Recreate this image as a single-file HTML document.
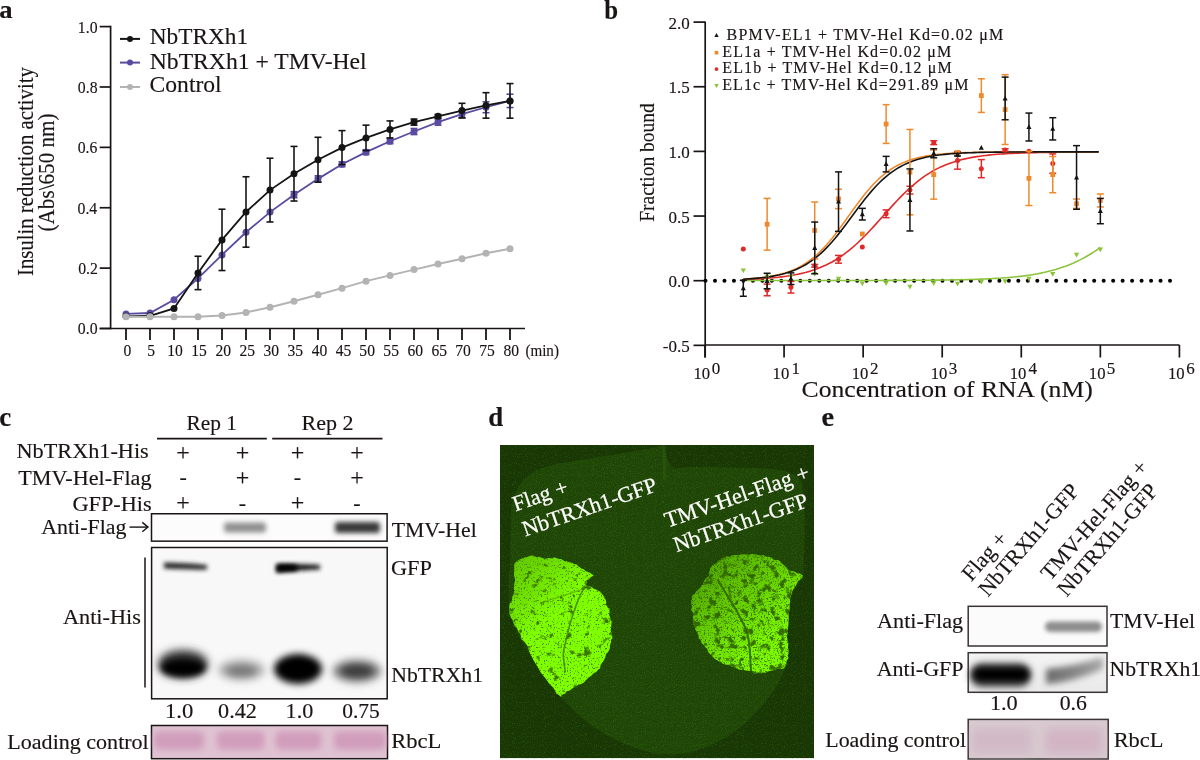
<!DOCTYPE html>
<html><head><meta charset="utf-8"><style>
html,body{margin:0;padding:0;background:#fff;width:1200px;height:760px;overflow:hidden}
svg{display:block;font-family:"Liberation Serif", serif;will-change:transform}
</style></head><body>
<svg width="1200" height="760" viewBox="0 0 1200 760">
<defs><filter id="b1" filterUnits="userSpaceOnUse" x="0" y="0" width="1200" height="760"><feGaussianBlur stdDeviation="1"/></filter><filter id="b1_5" filterUnits="userSpaceOnUse" x="0" y="0" width="1200" height="760"><feGaussianBlur stdDeviation="1.5"/></filter><filter id="b2" filterUnits="userSpaceOnUse" x="0" y="0" width="1200" height="760"><feGaussianBlur stdDeviation="2"/></filter><filter id="b2_2" filterUnits="userSpaceOnUse" x="0" y="0" width="1200" height="760"><feGaussianBlur stdDeviation="2.2"/></filter><filter id="b2_5" filterUnits="userSpaceOnUse" x="0" y="0" width="1200" height="760"><feGaussianBlur stdDeviation="2.5"/></filter><filter id="b3" filterUnits="userSpaceOnUse" x="0" y="0" width="1200" height="760"><feGaussianBlur stdDeviation="3"/></filter><filter id="b3_5" filterUnits="userSpaceOnUse" x="0" y="0" width="1200" height="760"><feGaussianBlur stdDeviation="3.5"/></filter><filter id="b4" filterUnits="userSpaceOnUse" x="0" y="0" width="1200" height="760"><feGaussianBlur stdDeviation="4"/></filter><filter id="b5" filterUnits="userSpaceOnUse" x="0" y="0" width="1200" height="760"><feGaussianBlur stdDeviation="5"/></filter><filter id="b6" filterUnits="userSpaceOnUse" x="0" y="0" width="1200" height="760"><feGaussianBlur stdDeviation="6"/></filter><filter id="speck" x="500" y="445" width="314" height="314" filterUnits="userSpaceOnUse" color-interpolation-filters="sRGB"><feTurbulence type="fractalNoise" baseFrequency="0.9" numOctaves="2" seed="11" result="t"/><feColorMatrix in="t" type="matrix" values="0 0 0 0 0.17  0 0 0 0 0.36  0 0 0 0 0.04  0 3.2 0 0 -1.55"/></filter><filter id="speck2" x="500" y="445" width="314" height="314" filterUnits="userSpaceOnUse" color-interpolation-filters="sRGB"><feTurbulence type="fractalNoise" baseFrequency="0.9" numOctaves="2" seed="5" result="t"/><feColorMatrix in="t" type="matrix" values="0 0 0 0 0.16  0 0 0 0 0.34  0 0 0 0 0.04  0 3.2 0 0 -1.75"/></filter><filter id="mottleL" x="500" y="540" width="130" height="170" filterUnits="userSpaceOnUse" color-interpolation-filters="sRGB"><feTurbulence type="fractalNoise" baseFrequency="0.12" numOctaves="5" seed="4" result="t"/><feColorMatrix in="t" type="matrix" values="0 0 0 0 0.22  0 0 0 0 0.45  0 0 0 0 0  0 7 0 0 -4.35" result="c"/><feComposite in="c" in2="SourceAlpha" operator="in"/></filter><filter id="mottleR" x="680" y="540" width="140" height="150" filterUnits="userSpaceOnUse" color-interpolation-filters="sRGB"><feTurbulence type="fractalNoise" baseFrequency="0.14" numOctaves="5" seed="9" result="t"/><feColorMatrix in="t" type="matrix" values="0 0 0 0 0.2  0 0 0 0 0.42  0 0 0 0 0  0 6 0 0 -3.2" result="c"/><feComposite in="c" in2="SourceAlpha" operator="in"/></filter><filter id="fineL" x="500" y="540" width="130" height="170" filterUnits="userSpaceOnUse" color-interpolation-filters="sRGB"><feTurbulence type="fractalNoise" baseFrequency="0.7" numOctaves="2" seed="21" result="t"/><feColorMatrix in="t" type="matrix" values="0 0 0 0 0.25  0 0 0 0 0.5  0 0 0 0 0  0 6 0 0 -3.55" result="c"/><feComposite in="c" in2="SourceAlpha" operator="in"/></filter><filter id="fineR" x="680" y="540" width="140" height="150" filterUnits="userSpaceOnUse" color-interpolation-filters="sRGB"><feTurbulence type="fractalNoise" baseFrequency="0.7" numOctaves="2" seed="23" result="t"/><feColorMatrix in="t" type="matrix" values="0 0 0 0 0.25  0 0 0 0 0.5  0 0 0 0 0  0 6 0 0 -3.3" result="c"/><feComposite in="c" in2="SourceAlpha" operator="in"/></filter></defs>
<text stroke="#1a1414" stroke-width="0.15" transform="translate(-0.80,18) scale(1.0667,1)" font-size="25" font-weight="bold" fill="#1a1414" >a</text>
<line x1="110.60" y1="25.75" x2="110.60" y2="329.20" stroke="#1a1414" stroke-width="1.7" />
<line x1="99.70" y1="328.50" x2="525.00" y2="328.50" stroke="#1a1414" stroke-width="1.7" />
<line x1="99.70" y1="328.50" x2="110.60" y2="328.50" stroke="#1a1414" stroke-width="1.7" />
<text stroke="#1a1414" stroke-width="0.15" transform="translate(77.84,334.4) scale(0.9000,1)" font-size="17.5" fill="#1a1414" >0.0</text>
<line x1="99.70" y1="268.12" x2="110.60" y2="268.12" stroke="#1a1414" stroke-width="1.7" />
<text stroke="#1a1414" stroke-width="0.15" transform="translate(78.16,274.02) scale(0.9000,1)" font-size="17.5" fill="#1a1414" >0.2</text>
<line x1="99.70" y1="207.74" x2="110.60" y2="207.74" stroke="#1a1414" stroke-width="1.7" />
<text stroke="#1a1414" stroke-width="0.15" transform="translate(77.53,213.64) scale(0.9000,1)" font-size="17.5" fill="#1a1414" >0.4</text>
<line x1="99.70" y1="147.36" x2="110.60" y2="147.36" stroke="#1a1414" stroke-width="1.7" />
<text stroke="#1a1414" stroke-width="0.15" transform="translate(77.69,153.26) scale(0.9000,1)" font-size="17.5" fill="#1a1414" >0.6</text>
<line x1="99.70" y1="86.98" x2="110.60" y2="86.98" stroke="#1a1414" stroke-width="1.7" />
<text stroke="#1a1414" stroke-width="0.15" transform="translate(77.84,92.88) scale(0.9000,1)" font-size="17.5" fill="#1a1414" >0.8</text>
<line x1="99.70" y1="26.60" x2="110.60" y2="26.60" stroke="#1a1414" stroke-width="1.7" />
<text stroke="#1a1414" stroke-width="0.15" transform="translate(77.84,32.5) scale(0.9000,1)" font-size="17.5" fill="#1a1414" >1.0</text>
<line x1="126.00" y1="328.50" x2="126.00" y2="340.00" stroke="#1a1414" stroke-width="1.8" />
<text stroke="#1a1414" stroke-width="0.15" transform="translate(123.41,356) scale(0.9000,1)" font-size="17.3" fill="#1a1414">0</text>
<line x1="150.00" y1="328.50" x2="150.00" y2="340.00" stroke="#1a1414" stroke-width="1.8" />
<text stroke="#1a1414" stroke-width="0.15" transform="translate(147.25,356) scale(0.9000,1)" font-size="17.3" fill="#1a1414">5</text>
<line x1="174.00" y1="328.50" x2="174.00" y2="340.00" stroke="#1a1414" stroke-width="1.8" />
<text stroke="#1a1414" stroke-width="0.15" transform="translate(167.13,356) scale(0.9000,1)" font-size="17.3" fill="#1a1414">10</text>
<line x1="198.00" y1="328.50" x2="198.00" y2="340.00" stroke="#1a1414" stroke-width="1.8" />
<text stroke="#1a1414" stroke-width="0.15" transform="translate(191.13,356) scale(0.9000,1)" font-size="17.3" fill="#1a1414">15</text>
<line x1="222.00" y1="328.50" x2="222.00" y2="340.00" stroke="#1a1414" stroke-width="1.8" />
<text stroke="#1a1414" stroke-width="0.15" transform="translate(215.52,356) scale(0.9000,1)" font-size="17.3" fill="#1a1414">20</text>
<line x1="246.00" y1="328.50" x2="246.00" y2="340.00" stroke="#1a1414" stroke-width="1.8" />
<text stroke="#1a1414" stroke-width="0.15" transform="translate(239.52,356) scale(0.9000,1)" font-size="17.3" fill="#1a1414">25</text>
<line x1="270.00" y1="328.50" x2="270.00" y2="340.00" stroke="#1a1414" stroke-width="1.8" />
<text stroke="#1a1414" stroke-width="0.15" transform="translate(263.44,356) scale(0.9000,1)" font-size="17.3" fill="#1a1414">30</text>
<line x1="294.00" y1="328.50" x2="294.00" y2="340.00" stroke="#1a1414" stroke-width="1.8" />
<text stroke="#1a1414" stroke-width="0.15" transform="translate(287.44,356) scale(0.9000,1)" font-size="17.3" fill="#1a1414">35</text>
<line x1="318.00" y1="328.50" x2="318.00" y2="340.00" stroke="#1a1414" stroke-width="1.8" />
<text stroke="#1a1414" stroke-width="0.15" transform="translate(311.67,356) scale(0.9000,1)" font-size="17.3" fill="#1a1414">40</text>
<line x1="342.00" y1="328.50" x2="342.00" y2="340.00" stroke="#1a1414" stroke-width="1.8" />
<text stroke="#1a1414" stroke-width="0.15" transform="translate(335.67,356) scale(0.9000,1)" font-size="17.3" fill="#1a1414">45</text>
<line x1="366.00" y1="328.50" x2="366.00" y2="340.00" stroke="#1a1414" stroke-width="1.8" />
<text stroke="#1a1414" stroke-width="0.15" transform="translate(359.36,356) scale(0.9000,1)" font-size="17.3" fill="#1a1414">50</text>
<line x1="390.00" y1="328.50" x2="390.00" y2="340.00" stroke="#1a1414" stroke-width="1.8" />
<text stroke="#1a1414" stroke-width="0.15" transform="translate(383.36,356) scale(0.9000,1)" font-size="17.3" fill="#1a1414">55</text>
<line x1="414.00" y1="328.50" x2="414.00" y2="340.00" stroke="#1a1414" stroke-width="1.8" />
<text stroke="#1a1414" stroke-width="0.15" transform="translate(407.51,356) scale(0.9000,1)" font-size="17.3" fill="#1a1414">60</text>
<line x1="438.00" y1="328.50" x2="438.00" y2="340.00" stroke="#1a1414" stroke-width="1.8" />
<text stroke="#1a1414" stroke-width="0.15" transform="translate(431.51,356) scale(0.9000,1)" font-size="17.3" fill="#1a1414">65</text>
<line x1="462.00" y1="328.50" x2="462.00" y2="340.00" stroke="#1a1414" stroke-width="1.8" />
<text stroke="#1a1414" stroke-width="0.15" transform="translate(455.28,356) scale(0.9000,1)" font-size="17.3" fill="#1a1414">70</text>
<line x1="486.00" y1="328.50" x2="486.00" y2="340.00" stroke="#1a1414" stroke-width="1.8" />
<text stroke="#1a1414" stroke-width="0.15" transform="translate(479.28,356) scale(0.9000,1)" font-size="17.3" fill="#1a1414">75</text>
<line x1="510.00" y1="328.50" x2="510.00" y2="340.00" stroke="#1a1414" stroke-width="1.8" />
<text stroke="#1a1414" stroke-width="0.15" transform="translate(503.51,356) scale(0.9000,1)" font-size="17.3" fill="#1a1414">80</text>
<text stroke="#1a1414" stroke-width="0.15" transform="translate(525.40,356) scale(0.8725,1)" font-size="17.3" fill="#1a1414" >(min)</text>
<text stroke="#1a1414" stroke-width="0.15" transform="translate(32.6,276.03) rotate(-90) scale(0.9043,1)" font-size="23" fill="#1a1414">Insulin reduction activity</text>
<text stroke="#1a1414" stroke-width="0.15" transform="translate(54.4,231.45) rotate(-90) scale(0.9194,1)" font-size="23" fill="#1a1414">(Abs\650 nm)</text>
<path d="M126.00,313.93 L150.00,313.02 L174.00,299.67 L198.00,278.42 L222.00,254.90 L246.00,232.29 L270.00,212.11 L294.00,194.72 L318.00,178.87 L342.00,164.31 L366.00,152.17 L390.00,141.24 L414.00,131.53 L438.00,122.12 L462.00,114.23 L486.00,107.25 L510.00,100.88" stroke="#5a4aa0" stroke-width="1.8" fill="none" />
<line x1="294.00" y1="191.68" x2="294.00" y2="197.75" stroke="#5a4aa0" stroke-width="1.6" />
<line x1="290.50" y1="191.68" x2="297.50" y2="191.68" stroke="#5a4aa0" stroke-width="1.6" />
<line x1="290.50" y1="197.75" x2="297.50" y2="197.75" stroke="#5a4aa0" stroke-width="1.6" />
<line x1="318.00" y1="175.84" x2="318.00" y2="181.91" stroke="#5a4aa0" stroke-width="1.6" />
<line x1="314.50" y1="175.84" x2="321.50" y2="175.84" stroke="#5a4aa0" stroke-width="1.6" />
<line x1="314.50" y1="181.91" x2="321.50" y2="181.91" stroke="#5a4aa0" stroke-width="1.6" />
<line x1="342.00" y1="161.88" x2="342.00" y2="166.73" stroke="#5a4aa0" stroke-width="1.6" />
<line x1="338.50" y1="161.88" x2="345.50" y2="161.88" stroke="#5a4aa0" stroke-width="1.6" />
<line x1="338.50" y1="166.73" x2="345.50" y2="166.73" stroke="#5a4aa0" stroke-width="1.6" />
<line x1="366.00" y1="149.74" x2="366.00" y2="154.59" stroke="#5a4aa0" stroke-width="1.6" />
<line x1="362.50" y1="149.74" x2="369.50" y2="149.74" stroke="#5a4aa0" stroke-width="1.6" />
<line x1="362.50" y1="154.59" x2="369.50" y2="154.59" stroke="#5a4aa0" stroke-width="1.6" />
<line x1="390.00" y1="138.81" x2="390.00" y2="143.67" stroke="#5a4aa0" stroke-width="1.6" />
<line x1="386.50" y1="138.81" x2="393.50" y2="138.81" stroke="#5a4aa0" stroke-width="1.6" />
<line x1="386.50" y1="143.67" x2="393.50" y2="143.67" stroke="#5a4aa0" stroke-width="1.6" />
<line x1="414.00" y1="128.49" x2="414.00" y2="134.56" stroke="#5a4aa0" stroke-width="1.6" />
<line x1="410.50" y1="128.49" x2="417.50" y2="128.49" stroke="#5a4aa0" stroke-width="1.6" />
<line x1="410.50" y1="134.56" x2="417.50" y2="134.56" stroke="#5a4aa0" stroke-width="1.6" />
<line x1="438.00" y1="119.08" x2="438.00" y2="125.16" stroke="#5a4aa0" stroke-width="1.6" />
<line x1="434.50" y1="119.08" x2="441.50" y2="119.08" stroke="#5a4aa0" stroke-width="1.6" />
<line x1="434.50" y1="125.16" x2="441.50" y2="125.16" stroke="#5a4aa0" stroke-width="1.6" />
<line x1="462.00" y1="110.59" x2="462.00" y2="117.87" stroke="#5a4aa0" stroke-width="1.6" />
<line x1="458.50" y1="110.59" x2="465.50" y2="110.59" stroke="#5a4aa0" stroke-width="1.6" />
<line x1="458.50" y1="117.87" x2="465.50" y2="117.87" stroke="#5a4aa0" stroke-width="1.6" />
<line x1="486.00" y1="101.79" x2="486.00" y2="112.71" stroke="#5a4aa0" stroke-width="1.6" />
<line x1="482.50" y1="101.79" x2="489.50" y2="101.79" stroke="#5a4aa0" stroke-width="1.6" />
<line x1="482.50" y1="112.71" x2="489.50" y2="112.71" stroke="#5a4aa0" stroke-width="1.6" />
<line x1="510.00" y1="94.20" x2="510.00" y2="107.55" stroke="#5a4aa0" stroke-width="1.6" />
<line x1="506.50" y1="94.20" x2="513.50" y2="94.20" stroke="#5a4aa0" stroke-width="1.6" />
<line x1="506.50" y1="107.55" x2="513.50" y2="107.55" stroke="#5a4aa0" stroke-width="1.6" />
<circle cx="126.00" cy="313.93" r="3.5" fill="#5a4aa0"/>
<circle cx="150.00" cy="313.02" r="3.5" fill="#5a4aa0"/>
<circle cx="174.00" cy="299.67" r="3.5" fill="#5a4aa0"/>
<circle cx="198.00" cy="278.42" r="3.5" fill="#5a4aa0"/>
<circle cx="222.00" cy="254.90" r="3.5" fill="#5a4aa0"/>
<circle cx="246.00" cy="232.29" r="3.5" fill="#5a4aa0"/>
<circle cx="270.00" cy="212.11" r="3.5" fill="#5a4aa0"/>
<circle cx="294.00" cy="194.72" r="3.5" fill="#5a4aa0"/>
<circle cx="318.00" cy="178.87" r="3.5" fill="#5a4aa0"/>
<circle cx="342.00" cy="164.31" r="3.5" fill="#5a4aa0"/>
<circle cx="366.00" cy="152.17" r="3.5" fill="#5a4aa0"/>
<circle cx="390.00" cy="141.24" r="3.5" fill="#5a4aa0"/>
<circle cx="414.00" cy="131.53" r="3.5" fill="#5a4aa0"/>
<circle cx="438.00" cy="122.12" r="3.5" fill="#5a4aa0"/>
<circle cx="462.00" cy="114.23" r="3.5" fill="#5a4aa0"/>
<circle cx="486.00" cy="107.25" r="3.5" fill="#5a4aa0"/>
<circle cx="510.00" cy="100.88" r="3.5" fill="#5a4aa0"/>
<path d="M126.00,316.36 L150.00,315.75 L174.00,308.47 L198.00,272.96 L222.00,239.88 L246.00,211.96 L270.00,190.10 L294.00,173.72 L318.00,159.75 L342.00,147.61 L366.00,137.90 L390.00,129.40 L414.00,122.12 L438.00,116.35 L462.00,110.59 L486.00,105.43 L510.00,100.88" stroke="#141414" stroke-width="1.8" fill="none" />
<line x1="198.00" y1="256.27" x2="198.00" y2="289.65" stroke="#141414" stroke-width="1.6" />
<line x1="194.50" y1="256.27" x2="201.50" y2="256.27" stroke="#141414" stroke-width="1.6" />
<line x1="194.50" y1="289.65" x2="201.50" y2="289.65" stroke="#141414" stroke-width="1.6" />
<line x1="222.00" y1="209.22" x2="222.00" y2="270.53" stroke="#141414" stroke-width="1.6" />
<line x1="218.50" y1="209.22" x2="225.50" y2="209.22" stroke="#141414" stroke-width="1.6" />
<line x1="218.50" y1="270.53" x2="225.50" y2="270.53" stroke="#141414" stroke-width="1.6" />
<line x1="246.00" y1="176.75" x2="246.00" y2="247.16" stroke="#141414" stroke-width="1.6" />
<line x1="242.50" y1="176.75" x2="249.50" y2="176.75" stroke="#141414" stroke-width="1.6" />
<line x1="242.50" y1="247.16" x2="249.50" y2="247.16" stroke="#141414" stroke-width="1.6" />
<line x1="270.00" y1="158.24" x2="270.00" y2="221.97" stroke="#141414" stroke-width="1.6" />
<line x1="266.50" y1="158.24" x2="273.50" y2="158.24" stroke="#141414" stroke-width="1.6" />
<line x1="266.50" y1="221.97" x2="273.50" y2="221.97" stroke="#141414" stroke-width="1.6" />
<line x1="294.00" y1="146.40" x2="294.00" y2="201.03" stroke="#141414" stroke-width="1.6" />
<line x1="290.50" y1="146.40" x2="297.50" y2="146.40" stroke="#141414" stroke-width="1.6" />
<line x1="290.50" y1="201.03" x2="297.50" y2="201.03" stroke="#141414" stroke-width="1.6" />
<line x1="318.00" y1="137.29" x2="318.00" y2="182.21" stroke="#141414" stroke-width="1.6" />
<line x1="314.50" y1="137.29" x2="321.50" y2="137.29" stroke="#141414" stroke-width="1.6" />
<line x1="314.50" y1="182.21" x2="321.50" y2="182.21" stroke="#141414" stroke-width="1.6" />
<line x1="342.00" y1="130.62" x2="342.00" y2="164.61" stroke="#141414" stroke-width="1.6" />
<line x1="338.50" y1="130.62" x2="345.50" y2="130.62" stroke="#141414" stroke-width="1.6" />
<line x1="338.50" y1="164.61" x2="345.50" y2="164.61" stroke="#141414" stroke-width="1.6" />
<line x1="366.00" y1="125.16" x2="366.00" y2="150.65" stroke="#141414" stroke-width="1.6" />
<line x1="362.50" y1="125.16" x2="369.50" y2="125.16" stroke="#141414" stroke-width="1.6" />
<line x1="362.50" y1="150.65" x2="369.50" y2="150.65" stroke="#141414" stroke-width="1.6" />
<line x1="390.00" y1="120.91" x2="390.00" y2="137.90" stroke="#141414" stroke-width="1.6" />
<line x1="386.50" y1="120.91" x2="393.50" y2="120.91" stroke="#141414" stroke-width="1.6" />
<line x1="386.50" y1="137.90" x2="393.50" y2="137.90" stroke="#141414" stroke-width="1.6" />
<line x1="414.00" y1="119.08" x2="414.00" y2="125.16" stroke="#141414" stroke-width="1.6" />
<line x1="410.50" y1="119.08" x2="417.50" y2="119.08" stroke="#141414" stroke-width="1.6" />
<line x1="410.50" y1="125.16" x2="417.50" y2="125.16" stroke="#141414" stroke-width="1.6" />
<line x1="438.00" y1="114.53" x2="438.00" y2="118.17" stroke="#141414" stroke-width="1.6" />
<line x1="434.50" y1="114.53" x2="441.50" y2="114.53" stroke="#141414" stroke-width="1.6" />
<line x1="434.50" y1="118.17" x2="441.50" y2="118.17" stroke="#141414" stroke-width="1.6" />
<line x1="462.00" y1="103.30" x2="462.00" y2="117.87" stroke="#141414" stroke-width="1.6" />
<line x1="458.50" y1="103.30" x2="465.50" y2="103.30" stroke="#141414" stroke-width="1.6" />
<line x1="458.50" y1="117.87" x2="465.50" y2="117.87" stroke="#141414" stroke-width="1.6" />
<line x1="486.00" y1="92.68" x2="486.00" y2="118.17" stroke="#141414" stroke-width="1.6" />
<line x1="482.50" y1="92.68" x2="489.50" y2="92.68" stroke="#141414" stroke-width="1.6" />
<line x1="482.50" y1="118.17" x2="489.50" y2="118.17" stroke="#141414" stroke-width="1.6" />
<line x1="510.00" y1="83.58" x2="510.00" y2="118.17" stroke="#141414" stroke-width="1.6" />
<line x1="506.50" y1="83.58" x2="513.50" y2="83.58" stroke="#141414" stroke-width="1.6" />
<line x1="506.50" y1="118.17" x2="513.50" y2="118.17" stroke="#141414" stroke-width="1.6" />
<circle cx="126.00" cy="316.36" r="3.5" fill="#141414"/>
<circle cx="150.00" cy="315.75" r="3.5" fill="#141414"/>
<circle cx="174.00" cy="308.47" r="3.5" fill="#141414"/>
<circle cx="198.00" cy="272.96" r="3.5" fill="#141414"/>
<circle cx="222.00" cy="239.88" r="3.5" fill="#141414"/>
<circle cx="246.00" cy="211.96" r="3.5" fill="#141414"/>
<circle cx="270.00" cy="190.10" r="3.5" fill="#141414"/>
<circle cx="294.00" cy="173.72" r="3.5" fill="#141414"/>
<circle cx="318.00" cy="159.75" r="3.5" fill="#141414"/>
<circle cx="342.00" cy="147.61" r="3.5" fill="#141414"/>
<circle cx="366.00" cy="137.90" r="3.5" fill="#141414"/>
<circle cx="390.00" cy="129.40" r="3.5" fill="#141414"/>
<circle cx="414.00" cy="122.12" r="3.5" fill="#141414"/>
<circle cx="438.00" cy="116.35" r="3.5" fill="#141414"/>
<circle cx="462.00" cy="110.59" r="3.5" fill="#141414"/>
<circle cx="486.00" cy="105.43" r="3.5" fill="#141414"/>
<circle cx="510.00" cy="100.88" r="3.5" fill="#141414"/>
<path d="M126.00,316.82 L150.00,316.82 L174.00,316.82 L198.00,316.66 L222.00,315.45 L246.00,312.41 L270.00,307.25 L294.00,301.19 L318.00,294.81 L342.00,288.13 L366.00,281.15 L390.00,275.39 L414.00,269.62 L438.00,264.01 L462.00,258.79 L486.00,253.29 L510.00,248.80" stroke="#b3b3b3" stroke-width="2.0" fill="none" />
<circle cx="126.00" cy="316.82" r="3.5" fill="#b3b3b3"/>
<circle cx="150.00" cy="316.82" r="3.5" fill="#b3b3b3"/>
<circle cx="174.00" cy="316.82" r="3.5" fill="#b3b3b3"/>
<circle cx="198.00" cy="316.66" r="3.5" fill="#b3b3b3"/>
<circle cx="222.00" cy="315.45" r="3.5" fill="#b3b3b3"/>
<circle cx="246.00" cy="312.41" r="3.5" fill="#b3b3b3"/>
<circle cx="270.00" cy="307.25" r="3.5" fill="#b3b3b3"/>
<circle cx="294.00" cy="301.19" r="3.5" fill="#b3b3b3"/>
<circle cx="318.00" cy="294.81" r="3.5" fill="#b3b3b3"/>
<circle cx="342.00" cy="288.13" r="3.5" fill="#b3b3b3"/>
<circle cx="366.00" cy="281.15" r="3.5" fill="#b3b3b3"/>
<circle cx="390.00" cy="275.39" r="3.5" fill="#b3b3b3"/>
<circle cx="414.00" cy="269.62" r="3.5" fill="#b3b3b3"/>
<circle cx="438.00" cy="264.01" r="3.5" fill="#b3b3b3"/>
<circle cx="462.00" cy="258.79" r="3.5" fill="#b3b3b3"/>
<circle cx="486.00" cy="253.29" r="3.5" fill="#b3b3b3"/>
<circle cx="510.00" cy="248.80" r="3.5" fill="#b3b3b3"/>
<line x1="120.00" y1="38.90" x2="140.00" y2="38.90" stroke="#141414" stroke-width="2" />
<circle cx="130.00" cy="38.90" r="3.0" fill="#141414"/>
<text stroke="#1a1414" stroke-width="0.15" transform="translate(149.80,44.400000000000006) scale(1.0127,1)" font-size="23" fill="#1a1414" >NbTRXh1</text>
<line x1="120.00" y1="62.60" x2="140.00" y2="62.60" stroke="#5a4aa0" stroke-width="2" />
<circle cx="130.00" cy="62.60" r="3.0" fill="#5a4aa0"/>
<text stroke="#1a1414" stroke-width="0.15" transform="translate(149.79,69.4) scale(1.0281,1)" font-size="23" fill="#1a1414" >NbTRXh1 + TMV-Hel</text>
<line x1="120.00" y1="87.00" x2="140.00" y2="87.00" stroke="#b3b3b3" stroke-width="2" />
<circle cx="130.00" cy="87.00" r="3.0" fill="#b3b3b3"/>
<text stroke="#1a1414" stroke-width="0.15" transform="translate(149.56,92.25) scale(1.0261,1)" font-size="23" fill="#1a1414" >Control</text>
<text stroke="#1a1414" stroke-width="0.15" transform="translate(604.25,18.5) scale(0.9223,1)" font-size="27" font-weight="bold" fill="#1a1414" >b</text>
<line x1="705.20" y1="21.40" x2="705.20" y2="357.50" stroke="#1a1414" stroke-width="1.7" />
<line x1="705.00" y1="345.00" x2="1179.50" y2="345.00" stroke="#1a1414" stroke-width="1.7" />
<line x1="693.50" y1="22.10" x2="705.00" y2="22.10" stroke="#1a1414" stroke-width="1.7" />
<text stroke="#1a1414" stroke-width="0.15" transform="translate(668.43,28.7) scale(1.0000,1)" font-size="17" fill="#1a1414" >2.0</text>
<line x1="693.50" y1="86.75" x2="705.00" y2="86.75" stroke="#1a1414" stroke-width="1.7" />
<text stroke="#1a1414" stroke-width="0.15" transform="translate(668.43,93.35) scale(1.0000,1)" font-size="17" fill="#1a1414" >1.5</text>
<line x1="693.50" y1="151.40" x2="705.00" y2="151.40" stroke="#1a1414" stroke-width="1.7" />
<text stroke="#1a1414" stroke-width="0.15" transform="translate(668.43,158.0) scale(1.0000,1)" font-size="17" fill="#1a1414" >1.0</text>
<line x1="693.50" y1="216.05" x2="705.00" y2="216.05" stroke="#1a1414" stroke-width="1.7" />
<text stroke="#1a1414" stroke-width="0.15" transform="translate(668.43,222.65) scale(1.0000,1)" font-size="17" fill="#1a1414" >0.5</text>
<line x1="693.50" y1="280.70" x2="705.00" y2="280.70" stroke="#1a1414" stroke-width="1.7" />
<text stroke="#1a1414" stroke-width="0.15" transform="translate(668.43,287.3) scale(1.0000,1)" font-size="17" fill="#1a1414" >0.0</text>
<line x1="693.50" y1="345.35" x2="705.00" y2="345.35" stroke="#1a1414" stroke-width="1.7" />
<text stroke="#1a1414" stroke-width="0.15" transform="translate(662.82,351.95) scale(1.0000,1)" font-size="17" fill="#1a1414" >-0.5</text>
<line x1="705.00" y1="345.00" x2="705.00" y2="357.50" stroke="#1a1414" stroke-width="1.7" />
<text stroke="#1a1414" stroke-width="0.15" transform="translate(693.50,379) scale(0.9804,1)" font-size="17" fill="#1a1414" >10</text>
<text stroke="#1a1414" stroke-width="0.15" transform="translate(711.82,373.5) scale(1.0000,1)" font-size="17" fill="#1a1414" >0</text>
<line x1="784.07" y1="345.00" x2="784.07" y2="357.50" stroke="#1a1414" stroke-width="1.7" />
<text stroke="#1a1414" stroke-width="0.15" transform="translate(772.57,379) scale(0.9804,1)" font-size="17" fill="#1a1414" >10</text>
<text stroke="#1a1414" stroke-width="0.15" transform="translate(791.54,373.5) scale(1.0000,1)" font-size="17" fill="#1a1414" >1</text>
<line x1="863.14" y1="345.00" x2="863.14" y2="357.50" stroke="#1a1414" stroke-width="1.7" />
<text stroke="#1a1414" stroke-width="0.15" transform="translate(851.64,379) scale(0.9804,1)" font-size="17" fill="#1a1414" >10</text>
<text stroke="#1a1414" stroke-width="0.15" transform="translate(869.96,373.5) scale(1.0000,1)" font-size="17" fill="#1a1414" >2</text>
<line x1="942.21" y1="345.00" x2="942.21" y2="357.50" stroke="#1a1414" stroke-width="1.7" />
<text stroke="#1a1414" stroke-width="0.15" transform="translate(930.71,379) scale(0.9804,1)" font-size="17" fill="#1a1414" >10</text>
<text stroke="#1a1414" stroke-width="0.15" transform="translate(948.86,373.5) scale(1.0000,1)" font-size="17" fill="#1a1414" >3</text>
<line x1="1021.28" y1="345.00" x2="1021.28" y2="357.50" stroke="#1a1414" stroke-width="1.7" />
<text stroke="#1a1414" stroke-width="0.15" transform="translate(1009.78,379) scale(0.9804,1)" font-size="17" fill="#1a1414" >10</text>
<text stroke="#1a1414" stroke-width="0.15" transform="translate(1028.44,373.5) scale(1.0000,1)" font-size="17" fill="#1a1414" >4</text>
<line x1="1100.35" y1="345.00" x2="1100.35" y2="357.50" stroke="#1a1414" stroke-width="1.7" />
<text stroke="#1a1414" stroke-width="0.15" transform="translate(1088.85,379) scale(0.9804,1)" font-size="17" fill="#1a1414" >10</text>
<text stroke="#1a1414" stroke-width="0.15" transform="translate(1106.83,373.5) scale(1.0000,1)" font-size="17" fill="#1a1414" >5</text>
<line x1="1179.42" y1="345.00" x2="1179.42" y2="357.50" stroke="#1a1414" stroke-width="1.7" />
<text stroke="#1a1414" stroke-width="0.15" transform="translate(1167.92,379) scale(0.9804,1)" font-size="17" fill="#1a1414" >10</text>
<text stroke="#1a1414" stroke-width="0.15" transform="translate(1186.24,373.5) scale(1.0000,1)" font-size="17" fill="#1a1414" >6</text>
<text stroke="#1a1414" stroke-width="0.15" transform="translate(801.57,397.4) scale(1.1151,1)" font-size="23" fill="#1a1414" >Concentration of RNA (nM)</text>
<text stroke="#1a1414" stroke-width="0.15" transform="translate(654.3,221.79) rotate(-90) scale(0.9522,1)" font-size="20.5" fill="#1a1414">Fraction bound</text>
<circle cx="705.50" cy="280.80" r="2.0" fill="#000"/>
<circle cx="714.98" cy="280.80" r="2.0" fill="#000"/>
<circle cx="724.46" cy="280.80" r="2.0" fill="#000"/>
<circle cx="733.94" cy="280.80" r="2.0" fill="#000"/>
<circle cx="743.42" cy="280.80" r="2.0" fill="#000"/>
<circle cx="752.90" cy="280.80" r="2.0" fill="#000"/>
<circle cx="762.38" cy="280.80" r="2.0" fill="#000"/>
<circle cx="771.86" cy="280.80" r="2.0" fill="#000"/>
<circle cx="781.34" cy="280.80" r="2.0" fill="#000"/>
<circle cx="790.82" cy="280.80" r="2.0" fill="#000"/>
<circle cx="800.30" cy="280.80" r="2.0" fill="#000"/>
<circle cx="809.78" cy="280.80" r="2.0" fill="#000"/>
<circle cx="819.26" cy="280.80" r="2.0" fill="#000"/>
<circle cx="828.74" cy="280.80" r="2.0" fill="#000"/>
<circle cx="838.22" cy="280.80" r="2.0" fill="#000"/>
<circle cx="847.70" cy="280.80" r="2.0" fill="#000"/>
<circle cx="857.18" cy="280.80" r="2.0" fill="#000"/>
<circle cx="866.66" cy="280.80" r="2.0" fill="#000"/>
<circle cx="876.14" cy="280.80" r="2.0" fill="#000"/>
<circle cx="885.62" cy="280.80" r="2.0" fill="#000"/>
<circle cx="895.10" cy="280.80" r="2.0" fill="#000"/>
<circle cx="904.58" cy="280.80" r="2.0" fill="#000"/>
<circle cx="914.06" cy="280.80" r="2.0" fill="#000"/>
<circle cx="923.54" cy="280.80" r="2.0" fill="#000"/>
<circle cx="933.02" cy="280.80" r="2.0" fill="#000"/>
<circle cx="942.50" cy="280.80" r="2.0" fill="#000"/>
<circle cx="951.98" cy="280.80" r="2.0" fill="#000"/>
<circle cx="961.46" cy="280.80" r="2.0" fill="#000"/>
<circle cx="970.94" cy="280.80" r="2.0" fill="#000"/>
<circle cx="980.42" cy="280.80" r="2.0" fill="#000"/>
<circle cx="989.90" cy="280.80" r="2.0" fill="#000"/>
<circle cx="999.38" cy="280.80" r="2.0" fill="#000"/>
<circle cx="1008.86" cy="280.80" r="2.0" fill="#000"/>
<circle cx="1018.34" cy="280.80" r="2.0" fill="#000"/>
<circle cx="1027.82" cy="280.80" r="2.0" fill="#000"/>
<circle cx="1037.30" cy="280.80" r="2.0" fill="#000"/>
<circle cx="1046.78" cy="280.80" r="2.0" fill="#000"/>
<circle cx="1056.26" cy="280.80" r="2.0" fill="#000"/>
<circle cx="1065.74" cy="280.80" r="2.0" fill="#000"/>
<circle cx="1075.22" cy="280.80" r="2.0" fill="#000"/>
<circle cx="1084.70" cy="280.80" r="2.0" fill="#000"/>
<circle cx="1094.18" cy="280.80" r="2.0" fill="#000"/>
<circle cx="1103.66" cy="280.80" r="2.0" fill="#000"/>
<circle cx="1113.14" cy="280.80" r="2.0" fill="#000"/>
<circle cx="1122.62" cy="280.80" r="2.0" fill="#000"/>
<circle cx="1132.10" cy="280.80" r="2.0" fill="#000"/>
<circle cx="1141.58" cy="280.80" r="2.0" fill="#000"/>
<circle cx="1151.06" cy="280.80" r="2.0" fill="#000"/>
<circle cx="1160.54" cy="280.80" r="2.0" fill="#000"/>
<circle cx="1170.02" cy="280.80" r="2.0" fill="#000"/>
<path d="M743.31,280.50 L746.28,280.50 L749.26,280.50 L752.24,280.50 L755.21,280.50 L758.19,280.50 L761.16,280.50 L764.14,280.50 L767.11,280.50 L770.09,280.50 L773.06,280.50 L776.04,280.50 L779.01,280.50 L781.99,280.50 L784.96,280.50 L787.94,280.50 L790.91,280.49 L793.89,280.49 L796.87,280.49 L799.84,280.49 L802.82,280.49 L805.79,280.49 L808.77,280.49 L811.74,280.49 L814.72,280.49 L817.69,280.49 L820.67,280.49 L823.64,280.49 L826.62,280.48 L829.59,280.48 L832.57,280.48 L835.54,280.48 L838.52,280.48 L841.50,280.48 L844.47,280.47 L847.45,280.47 L850.42,280.47 L853.40,280.47 L856.37,280.46 L859.35,280.46 L862.32,280.46 L865.30,280.45 L868.27,280.45 L871.25,280.44 L874.22,280.44 L877.20,280.43 L880.17,280.43 L883.15,280.42 L886.13,280.41 L889.10,280.41 L892.08,280.40 L895.05,280.39 L898.03,280.38 L901.00,280.37 L903.98,280.35 L906.95,280.34 L909.93,280.33 L912.90,280.31 L915.88,280.29 L918.85,280.28 L921.83,280.26 L924.81,280.23 L927.78,280.21 L930.76,280.18 L933.73,280.15 L936.71,280.12 L939.68,280.09 L942.66,280.05 L945.63,280.01 L948.61,279.97 L951.58,279.92 L954.56,279.87 L957.53,279.81 L960.51,279.75 L963.48,279.68 L966.46,279.61 L969.44,279.53 L972.41,279.44 L975.39,279.35 L978.36,279.24 L981.34,279.13 L984.31,279.01 L987.29,278.87 L990.26,278.73 L993.24,278.57 L996.21,278.40 L999.19,278.21 L1002.16,278.01 L1005.14,277.79 L1008.11,277.55 L1011.09,277.29 L1014.07,277.01 L1017.04,276.70 L1020.02,276.37 L1022.99,276.01 L1025.97,275.61 L1028.94,275.19 L1031.92,274.73 L1034.89,274.23 L1037.87,273.70 L1040.84,273.12 L1043.82,272.49 L1046.79,271.81 L1049.77,271.08 L1052.74,270.30 L1055.72,269.46 L1058.70,268.55 L1061.67,267.57 L1064.65,266.53 L1067.62,265.41 L1070.60,264.22 L1073.57,262.95 L1076.55,261.59 L1079.52,260.15 L1082.50,258.62 L1085.47,257.00 L1088.45,255.29 L1091.42,253.48 L1094.40,251.58 L1097.37,249.59 L1100.35,247.51" stroke="#8cc43c" stroke-width="1.6" fill="none" />
<path d="M743.31,279.53 L746.26,279.42 L749.22,279.31 L752.18,279.18 L755.13,279.04 L758.09,278.88 L761.04,278.71 L764.00,278.52 L766.95,278.30 L769.91,278.07 L772.87,277.81 L775.82,277.52 L778.78,277.21 L781.73,276.86 L784.69,276.48 L787.64,276.05 L790.60,275.59 L793.55,275.08 L796.51,274.51 L799.47,273.90 L802.42,273.22 L805.38,272.48 L808.33,271.66 L811.29,270.78 L814.24,269.81 L817.20,268.75 L820.15,267.60 L823.11,266.35 L826.07,264.99 L829.02,263.53 L831.98,261.95 L834.93,260.25 L837.89,258.42 L840.84,256.47 L843.80,254.39 L846.75,252.17 L849.71,249.83 L852.67,247.35 L855.62,244.75 L858.58,242.02 L861.53,239.18 L864.49,236.23 L867.44,233.19 L870.40,230.06 L873.35,226.87 L876.31,223.61 L879.27,220.32 L882.22,217.01 L885.18,213.69 L888.13,210.39 L891.09,207.11 L894.04,203.89 L897.00,200.73 L899.95,197.64 L902.91,194.65 L905.87,191.76 L908.82,188.98 L911.78,186.32 L914.73,183.78 L917.69,181.38 L920.64,179.10 L923.60,176.95 L926.55,174.94 L929.51,173.06 L932.47,171.30 L935.42,169.66 L938.38,168.15 L941.33,166.74 L944.29,165.45 L947.24,164.25 L950.20,163.15 L953.15,162.14 L956.11,161.21 L959.07,160.37 L962.02,159.59 L964.98,158.89 L967.93,158.24 L970.89,157.65 L973.84,157.12 L976.80,156.63 L979.76,156.19 L982.71,155.79 L985.67,155.42 L988.62,155.09 L991.58,154.80 L994.53,154.52 L997.49,154.28 L1000.44,154.06 L1003.40,153.85 L1006.36,153.67 L1009.31,153.51 L1012.27,153.36 L1015.22,153.23 L1018.18,153.10 L1021.13,152.99 L1024.09,152.89 L1027.04,152.81 L1030.00,152.72 L1032.96,152.65 L1035.91,152.59 L1038.87,152.53 L1041.82,152.47 L1044.78,152.42 L1047.73,152.38 L1050.69,152.34 L1053.64,152.30 L1056.60,152.27 L1059.56,152.24 L1062.51,152.22 L1065.47,152.19 L1068.42,152.17 L1071.38,152.15 L1074.33,152.14 L1077.29,152.12 L1080.24,152.11 L1083.20,152.09 L1086.16,152.08 L1089.11,152.07 L1092.07,152.06 L1095.02,152.05 L1097.98,152.05" stroke="#e02a2a" stroke-width="1.6" fill="none" />
<path d="M743.31,279.21 L746.27,279.04 L749.23,278.84 L752.20,278.61 L755.16,278.36 L758.12,278.07 L761.08,277.74 L764.04,277.36 L767.01,276.94 L769.97,276.47 L772.93,275.93 L775.89,275.32 L778.86,274.64 L781.82,273.87 L784.78,273.01 L787.74,272.05 L790.70,270.96 L793.67,269.76 L796.63,268.41 L799.59,266.92 L802.55,265.27 L805.51,263.44 L808.48,261.43 L811.44,259.24 L814.40,256.84 L817.36,254.24 L820.33,251.43 L823.29,248.41 L826.25,245.20 L829.21,241.79 L832.17,238.20 L835.14,234.45 L838.10,230.56 L841.06,226.55 L844.02,222.46 L846.99,218.32 L849.95,214.16 L852.91,210.01 L855.87,205.92 L858.83,201.91 L861.80,198.02 L864.76,194.26 L867.72,190.67 L870.68,187.25 L873.64,184.03 L876.61,181.01 L879.57,178.19 L882.53,175.59 L885.49,173.18 L888.46,170.98 L891.42,168.97 L894.38,167.13 L897.34,165.48 L900.30,163.98 L903.27,162.63 L906.23,161.42 L909.19,160.33 L912.15,159.36 L915.11,158.50 L918.08,157.73 L921.04,157.04 L924.00,156.43 L926.96,155.89 L929.93,155.42 L932.89,154.99 L935.85,154.62 L938.81,154.29 L941.77,154.00 L944.74,153.74 L947.70,153.51 L950.66,153.31 L953.62,153.14 L956.58,152.98 L959.55,152.85 L962.51,152.73 L965.47,152.62 L968.43,152.53 L971.40,152.44 L974.36,152.37 L977.32,152.31 L980.28,152.25 L983.24,152.20 L986.21,152.16 L989.17,152.12 L992.13,152.09 L995.09,152.06 L998.06,152.03 L1001.02,152.01 L1003.98,151.99 L1006.94,151.97 L1009.90,151.96 L1012.87,151.94 L1015.83,151.93 L1018.79,151.92 L1021.75,151.91 L1024.71,151.90 L1027.68,151.90 L1030.64,151.89 L1033.60,151.89 L1036.56,151.88 L1039.53,151.88 L1042.49,151.87 L1045.45,151.87 L1048.41,151.87 L1051.37,151.86 L1054.34,151.86 L1057.30,151.86 L1060.26,151.86 L1063.22,151.86 L1066.18,151.86 L1069.15,151.85 L1072.11,151.85 L1075.07,151.85 L1078.03,151.85 L1081.00,151.85 L1083.96,151.85 L1086.92,151.85 L1089.88,151.85 L1092.84,151.85 L1095.81,151.85 L1098.77,151.85" stroke="#ee8a2c" stroke-width="1.6" fill="none" />
<path d="M743.31,279.21 L746.27,279.04 L749.23,278.85 L752.20,278.63 L755.16,278.39 L758.12,278.11 L761.08,277.80 L764.04,277.45 L767.01,277.05 L769.97,276.61 L772.93,276.10 L775.89,275.54 L778.86,274.91 L781.82,274.20 L784.78,273.41 L787.74,272.52 L790.70,271.53 L793.67,270.43 L796.63,269.21 L799.59,267.85 L802.55,266.35 L805.51,264.70 L808.48,262.88 L811.44,260.89 L814.40,258.72 L817.36,256.36 L820.33,253.81 L823.29,251.07 L826.25,248.13 L829.21,245.01 L832.17,241.71 L835.14,238.24 L838.10,234.62 L841.06,230.86 L844.02,227.00 L846.99,223.05 L849.95,219.05 L852.91,215.03 L855.87,211.02 L858.83,207.05 L861.80,203.15 L864.76,199.34 L867.72,195.66 L870.68,192.12 L873.64,188.74 L876.61,185.54 L879.57,182.53 L882.53,179.70 L885.49,177.07 L888.46,174.63 L891.42,172.38 L894.38,170.31 L897.34,168.42 L900.30,166.69 L903.27,165.13 L906.23,163.71 L909.19,162.43 L912.15,161.28 L915.11,160.24 L918.08,159.31 L921.04,158.48 L924.00,157.73 L926.96,157.07 L929.93,156.48 L932.89,155.95 L935.85,155.48 L938.81,155.07 L941.77,154.70 L944.74,154.37 L947.70,154.08 L950.66,153.82 L953.62,153.59 L956.58,153.39 L959.55,153.21 L962.51,153.05 L965.47,152.91 L968.43,152.78 L971.40,152.68 L974.36,152.58 L977.32,152.49 L980.28,152.42 L983.24,152.35 L986.21,152.29 L989.17,152.24 L992.13,152.19 L995.09,152.15 L998.06,152.12 L1001.02,152.08 L1003.98,152.06 L1006.94,152.03 L1009.90,152.01 L1012.87,151.99 L1015.83,151.97 L1018.79,151.96 L1021.75,151.95 L1024.71,151.93 L1027.68,151.92 L1030.64,151.91 L1033.60,151.91 L1036.56,151.90 L1039.53,151.89 L1042.49,151.89 L1045.45,151.88 L1048.41,151.88 L1051.37,151.87 L1054.34,151.87 L1057.30,151.87 L1060.26,151.87 L1063.22,151.86 L1066.18,151.86 L1069.15,151.86 L1072.11,151.86 L1075.07,151.86 L1078.03,151.86 L1081.00,151.85 L1083.96,151.85 L1086.92,151.85 L1089.88,151.85 L1092.84,151.85 L1095.81,151.85 L1098.77,151.85" stroke="#141414" stroke-width="1.6" fill="none" />
<path d="M743.31,273.34 L745.97,268.58 L740.65,268.58 Z" fill="#8cc43c"/>
<path d="M767.12,279.16 L769.78,274.40 L764.46,274.40 Z" fill="#8cc43c"/>
<path d="M790.92,279.16 L793.58,274.40 L788.26,274.40 Z" fill="#8cc43c"/>
<path d="M814.72,276.84 L817.38,272.08 L812.06,272.08 Z" fill="#8cc43c"/>
<path d="M838.52,281.49 L841.18,276.73 L835.86,276.73 Z" fill="#8cc43c"/>
<path d="M862.33,286.14 L864.99,281.38 L859.67,281.38 Z" fill="#8cc43c"/>
<path d="M886.13,285.89 L888.79,281.13 L883.47,281.13 Z" fill="#8cc43c"/>
<path d="M909.93,289.51 L912.59,284.75 L907.27,284.75 Z" fill="#8cc43c"/>
<path d="M933.73,285.89 L936.39,281.13 L931.07,281.13 Z" fill="#8cc43c"/>
<path d="M957.54,286.40 L960.20,281.64 L954.88,281.64 Z" fill="#8cc43c"/>
<path d="M981.34,284.59 L984.00,279.83 L978.68,279.83 Z" fill="#8cc43c"/>
<path d="M1005.14,283.95 L1007.80,279.19 L1002.48,279.19 Z" fill="#8cc43c"/>
<path d="M1028.94,281.62 L1031.60,276.86 L1026.28,276.86 Z" fill="#8cc43c"/>
<path d="M1052.75,276.84 L1055.41,272.08 L1050.09,272.08 Z" fill="#8cc43c"/>
<path d="M1076.55,257.57 L1079.21,252.81 L1073.89,252.81 Z" fill="#8cc43c"/>
<path d="M1100.35,252.27 L1103.01,247.51 L1097.69,247.51 Z" fill="#8cc43c"/>
<circle cx="743.31" cy="249.08" r="2.5" fill="#e02a2a"/>
<line x1="767.12" y1="284.12" x2="767.12" y2="295.76" stroke="#e02a2a" stroke-width="1.5" />
<line x1="763.62" y1="284.12" x2="770.62" y2="284.12" stroke="#e02a2a" stroke-width="1.5" />
<line x1="763.62" y1="295.76" x2="770.62" y2="295.76" stroke="#e02a2a" stroke-width="1.5" />
<circle cx="767.12" cy="289.94" r="2.5" fill="#e02a2a"/>
<line x1="790.92" y1="281.41" x2="790.92" y2="293.04" stroke="#e02a2a" stroke-width="1.5" />
<line x1="787.42" y1="281.41" x2="794.42" y2="281.41" stroke="#e02a2a" stroke-width="1.5" />
<line x1="787.42" y1="293.04" x2="794.42" y2="293.04" stroke="#e02a2a" stroke-width="1.5" />
<circle cx="790.92" cy="287.22" r="2.5" fill="#e02a2a"/>
<line x1="814.72" y1="264.47" x2="814.72" y2="267.05" stroke="#e02a2a" stroke-width="1.5" />
<line x1="811.22" y1="264.47" x2="818.22" y2="264.47" stroke="#e02a2a" stroke-width="1.5" />
<line x1="811.22" y1="267.05" x2="818.22" y2="267.05" stroke="#e02a2a" stroke-width="1.5" />
<circle cx="814.72" cy="265.76" r="2.5" fill="#e02a2a"/>
<line x1="838.52" y1="255.42" x2="838.52" y2="263.17" stroke="#e02a2a" stroke-width="1.5" />
<line x1="835.02" y1="255.42" x2="842.02" y2="255.42" stroke="#e02a2a" stroke-width="1.5" />
<line x1="835.02" y1="263.17" x2="842.02" y2="263.17" stroke="#e02a2a" stroke-width="1.5" />
<circle cx="838.52" cy="259.29" r="2.5" fill="#e02a2a"/>
<circle cx="862.33" cy="246.88" r="2.5" fill="#e02a2a"/>
<line x1="886.13" y1="209.90" x2="886.13" y2="217.66" stroke="#e02a2a" stroke-width="1.5" />
<line x1="882.63" y1="209.90" x2="889.63" y2="209.90" stroke="#e02a2a" stroke-width="1.5" />
<line x1="882.63" y1="217.66" x2="889.63" y2="217.66" stroke="#e02a2a" stroke-width="1.5" />
<circle cx="886.13" cy="213.78" r="2.5" fill="#e02a2a"/>
<line x1="909.93" y1="186.24" x2="909.93" y2="194.00" stroke="#e02a2a" stroke-width="1.5" />
<line x1="906.43" y1="186.24" x2="913.43" y2="186.24" stroke="#e02a2a" stroke-width="1.5" />
<line x1="906.43" y1="194.00" x2="913.43" y2="194.00" stroke="#e02a2a" stroke-width="1.5" />
<circle cx="909.93" cy="190.12" r="2.5" fill="#e02a2a"/>
<line x1="933.73" y1="140.73" x2="933.73" y2="144.61" stroke="#e02a2a" stroke-width="1.5" />
<line x1="930.23" y1="140.73" x2="937.23" y2="140.73" stroke="#e02a2a" stroke-width="1.5" />
<line x1="930.23" y1="144.61" x2="937.23" y2="144.61" stroke="#e02a2a" stroke-width="1.5" />
<circle cx="933.73" cy="142.67" r="2.5" fill="#e02a2a"/>
<line x1="957.54" y1="151.59" x2="957.54" y2="169.17" stroke="#e02a2a" stroke-width="1.5" />
<line x1="954.04" y1="151.59" x2="961.04" y2="151.59" stroke="#e02a2a" stroke-width="1.5" />
<line x1="954.04" y1="169.17" x2="961.04" y2="169.17" stroke="#e02a2a" stroke-width="1.5" />
<circle cx="957.54" cy="160.38" r="2.5" fill="#e02a2a"/>
<line x1="981.34" y1="159.60" x2="981.34" y2="177.71" stroke="#e02a2a" stroke-width="1.5" />
<line x1="977.84" y1="159.60" x2="984.84" y2="159.60" stroke="#e02a2a" stroke-width="1.5" />
<line x1="977.84" y1="177.71" x2="984.84" y2="177.71" stroke="#e02a2a" stroke-width="1.5" />
<circle cx="981.34" cy="168.66" r="2.5" fill="#e02a2a"/>
<line x1="1005.14" y1="148.74" x2="1005.14" y2="151.33" stroke="#e02a2a" stroke-width="1.5" />
<line x1="1001.64" y1="148.74" x2="1008.64" y2="148.74" stroke="#e02a2a" stroke-width="1.5" />
<line x1="1001.64" y1="151.33" x2="1008.64" y2="151.33" stroke="#e02a2a" stroke-width="1.5" />
<circle cx="1005.14" cy="150.04" r="2.5" fill="#e02a2a"/>
<circle cx="1028.94" cy="151.20" r="2.5" fill="#e02a2a"/>
<line x1="1052.75" y1="153.92" x2="1052.75" y2="173.31" stroke="#e02a2a" stroke-width="1.5" />
<line x1="1049.25" y1="153.92" x2="1056.25" y2="153.92" stroke="#e02a2a" stroke-width="1.5" />
<line x1="1049.25" y1="173.31" x2="1056.25" y2="173.31" stroke="#e02a2a" stroke-width="1.5" />
<circle cx="1052.75" cy="163.61" r="2.5" fill="#e02a2a"/>
<line x1="767.12" y1="198.39" x2="767.12" y2="250.11" stroke="#ee8a2c" stroke-width="1.5" />
<line x1="763.62" y1="198.39" x2="770.62" y2="198.39" stroke="#ee8a2c" stroke-width="1.5" />
<line x1="763.62" y1="250.11" x2="770.62" y2="250.11" stroke="#ee8a2c" stroke-width="1.5" />
<rect x="764.72" y="221.85" width="4.8" height="4.8" fill="#ee8a2c"/>
<line x1="814.72" y1="202.01" x2="814.72" y2="258.91" stroke="#ee8a2c" stroke-width="1.5" />
<line x1="811.22" y1="202.01" x2="818.22" y2="202.01" stroke="#ee8a2c" stroke-width="1.5" />
<line x1="811.22" y1="258.91" x2="818.22" y2="258.91" stroke="#ee8a2c" stroke-width="1.5" />
<rect x="812.32" y="228.06" width="4.8" height="4.8" fill="#ee8a2c"/>
<line x1="838.52" y1="189.21" x2="838.52" y2="208.61" stroke="#ee8a2c" stroke-width="1.5" />
<line x1="835.02" y1="189.21" x2="842.02" y2="189.21" stroke="#ee8a2c" stroke-width="1.5" />
<line x1="835.02" y1="208.61" x2="842.02" y2="208.61" stroke="#ee8a2c" stroke-width="1.5" />
<rect x="836.12" y="196.51" width="4.8" height="4.8" fill="#ee8a2c"/>
<rect x="859.93" y="231.55" width="4.8" height="4.8" fill="#ee8a2c"/>
<line x1="886.13" y1="104.65" x2="886.13" y2="143.44" stroke="#ee8a2c" stroke-width="1.5" />
<line x1="882.63" y1="104.65" x2="889.63" y2="104.65" stroke="#ee8a2c" stroke-width="1.5" />
<line x1="882.63" y1="143.44" x2="889.63" y2="143.44" stroke="#ee8a2c" stroke-width="1.5" />
<rect x="883.73" y="121.65" width="4.8" height="4.8" fill="#ee8a2c"/>
<line x1="909.93" y1="129.48" x2="909.93" y2="214.82" stroke="#ee8a2c" stroke-width="1.5" />
<line x1="906.43" y1="129.48" x2="913.43" y2="129.48" stroke="#ee8a2c" stroke-width="1.5" />
<line x1="906.43" y1="214.82" x2="913.43" y2="214.82" stroke="#ee8a2c" stroke-width="1.5" />
<rect x="907.53" y="169.75" width="4.8" height="4.8" fill="#ee8a2c"/>
<line x1="933.73" y1="150.04" x2="933.73" y2="199.17" stroke="#ee8a2c" stroke-width="1.5" />
<line x1="930.23" y1="150.04" x2="937.23" y2="150.04" stroke="#ee8a2c" stroke-width="1.5" />
<line x1="930.23" y1="199.17" x2="937.23" y2="199.17" stroke="#ee8a2c" stroke-width="1.5" />
<rect x="931.33" y="172.20" width="4.8" height="4.8" fill="#ee8a2c"/>
<rect x="955.14" y="150.09" width="4.8" height="4.8" fill="#ee8a2c"/>
<line x1="981.34" y1="78.79" x2="981.34" y2="112.41" stroke="#ee8a2c" stroke-width="1.5" />
<line x1="977.84" y1="78.79" x2="984.84" y2="78.79" stroke="#ee8a2c" stroke-width="1.5" />
<line x1="977.84" y1="112.41" x2="984.84" y2="112.41" stroke="#ee8a2c" stroke-width="1.5" />
<rect x="978.94" y="93.20" width="4.8" height="4.8" fill="#ee8a2c"/>
<line x1="1005.14" y1="74.65" x2="1005.14" y2="144.48" stroke="#ee8a2c" stroke-width="1.5" />
<line x1="1001.64" y1="74.65" x2="1008.64" y2="74.65" stroke="#ee8a2c" stroke-width="1.5" />
<line x1="1001.64" y1="144.48" x2="1008.64" y2="144.48" stroke="#ee8a2c" stroke-width="1.5" />
<rect x="1002.74" y="107.17" width="4.8" height="4.8" fill="#ee8a2c"/>
<line x1="1028.94" y1="151.20" x2="1028.94" y2="205.51" stroke="#ee8a2c" stroke-width="1.5" />
<line x1="1025.44" y1="151.20" x2="1032.44" y2="151.20" stroke="#ee8a2c" stroke-width="1.5" />
<line x1="1025.44" y1="205.51" x2="1032.44" y2="205.51" stroke="#ee8a2c" stroke-width="1.5" />
<rect x="1026.54" y="175.95" width="4.8" height="4.8" fill="#ee8a2c"/>
<line x1="1052.75" y1="156.50" x2="1052.75" y2="192.71" stroke="#ee8a2c" stroke-width="1.5" />
<line x1="1049.25" y1="156.50" x2="1056.25" y2="156.50" stroke="#ee8a2c" stroke-width="1.5" />
<line x1="1049.25" y1="192.71" x2="1056.25" y2="192.71" stroke="#ee8a2c" stroke-width="1.5" />
<rect x="1050.35" y="172.20" width="4.8" height="4.8" fill="#ee8a2c"/>
<line x1="1076.55" y1="199.04" x2="1076.55" y2="208.35" stroke="#ee8a2c" stroke-width="1.5" />
<line x1="1073.05" y1="199.04" x2="1080.05" y2="199.04" stroke="#ee8a2c" stroke-width="1.5" />
<line x1="1073.05" y1="208.35" x2="1080.05" y2="208.35" stroke="#ee8a2c" stroke-width="1.5" />
<rect x="1074.15" y="201.30" width="4.8" height="4.8" fill="#ee8a2c"/>
<line x1="1100.35" y1="194.00" x2="1100.35" y2="206.93" stroke="#ee8a2c" stroke-width="1.5" />
<line x1="1096.85" y1="194.00" x2="1103.85" y2="194.00" stroke="#ee8a2c" stroke-width="1.5" />
<line x1="1096.85" y1="206.93" x2="1103.85" y2="206.93" stroke="#ee8a2c" stroke-width="1.5" />
<rect x="1097.95" y="198.06" width="4.8" height="4.8" fill="#ee8a2c"/>
<line x1="743.31" y1="280.24" x2="743.31" y2="296.27" stroke="#141414" stroke-width="1.5" />
<line x1="739.81" y1="280.24" x2="746.81" y2="280.24" stroke="#141414" stroke-width="1.5" />
<line x1="739.81" y1="296.27" x2="746.81" y2="296.27" stroke="#141414" stroke-width="1.5" />
<path d="M743.31,285.46 L745.83,290.22 L740.79,290.22 Z" fill="#141414"/>
<line x1="767.12" y1="273.26" x2="767.12" y2="288.78" stroke="#141414" stroke-width="1.5" />
<line x1="763.62" y1="273.26" x2="770.62" y2="273.26" stroke="#141414" stroke-width="1.5" />
<line x1="763.62" y1="288.78" x2="770.62" y2="288.78" stroke="#141414" stroke-width="1.5" />
<path d="M767.12,278.22 L769.64,282.98 L764.60,282.98 Z" fill="#141414"/>
<line x1="790.92" y1="272.87" x2="790.92" y2="284.51" stroke="#141414" stroke-width="1.5" />
<line x1="787.42" y1="272.87" x2="794.42" y2="272.87" stroke="#141414" stroke-width="1.5" />
<line x1="787.42" y1="284.51" x2="794.42" y2="284.51" stroke="#141414" stroke-width="1.5" />
<path d="M790.92,275.89 L793.44,280.65 L788.40,280.65 Z" fill="#141414"/>
<line x1="814.72" y1="222.06" x2="814.72" y2="273.78" stroke="#141414" stroke-width="1.5" />
<line x1="811.22" y1="222.06" x2="818.22" y2="222.06" stroke="#141414" stroke-width="1.5" />
<line x1="811.22" y1="273.78" x2="818.22" y2="273.78" stroke="#141414" stroke-width="1.5" />
<path d="M814.72,245.12 L817.24,249.88 L812.20,249.88 Z" fill="#141414"/>
<line x1="838.52" y1="171.89" x2="838.52" y2="231.37" stroke="#141414" stroke-width="1.5" />
<line x1="835.02" y1="171.89" x2="842.02" y2="171.89" stroke="#141414" stroke-width="1.5" />
<line x1="835.02" y1="231.37" x2="842.02" y2="231.37" stroke="#141414" stroke-width="1.5" />
<path d="M838.52,198.83 L841.04,203.59 L836.00,203.59 Z" fill="#141414"/>
<line x1="862.33" y1="208.35" x2="862.33" y2="219.99" stroke="#141414" stroke-width="1.5" />
<line x1="858.83" y1="208.35" x2="865.83" y2="208.35" stroke="#141414" stroke-width="1.5" />
<line x1="858.83" y1="219.99" x2="865.83" y2="219.99" stroke="#141414" stroke-width="1.5" />
<path d="M862.33,211.37 L864.85,216.13 L859.81,216.13 Z" fill="#141414"/>
<line x1="886.13" y1="156.37" x2="886.13" y2="171.89" stroke="#141414" stroke-width="1.5" />
<line x1="882.63" y1="156.37" x2="889.63" y2="156.37" stroke="#141414" stroke-width="1.5" />
<line x1="882.63" y1="171.89" x2="889.63" y2="171.89" stroke="#141414" stroke-width="1.5" />
<path d="M886.13,161.33 L888.65,166.09 L883.61,166.09 Z" fill="#141414"/>
<line x1="909.93" y1="168.91" x2="909.93" y2="230.98" stroke="#141414" stroke-width="1.5" />
<line x1="906.43" y1="168.91" x2="913.43" y2="168.91" stroke="#141414" stroke-width="1.5" />
<line x1="906.43" y1="230.98" x2="913.43" y2="230.98" stroke="#141414" stroke-width="1.5" />
<path d="M909.93,197.15 L912.45,201.91 L907.41,201.91 Z" fill="#141414"/>
<line x1="933.73" y1="148.74" x2="933.73" y2="157.79" stroke="#141414" stroke-width="1.5" />
<line x1="930.23" y1="148.74" x2="937.23" y2="148.74" stroke="#141414" stroke-width="1.5" />
<line x1="930.23" y1="157.79" x2="937.23" y2="157.79" stroke="#141414" stroke-width="1.5" />
<path d="M933.73,150.47 L936.25,155.23 L931.21,155.23 Z" fill="#141414"/>
<line x1="957.54" y1="153.40" x2="957.54" y2="155.98" stroke="#141414" stroke-width="1.5" />
<line x1="954.04" y1="153.40" x2="961.04" y2="153.40" stroke="#141414" stroke-width="1.5" />
<line x1="954.04" y1="155.98" x2="961.04" y2="155.98" stroke="#141414" stroke-width="1.5" />
<path d="M957.54,151.89 L960.06,156.65 L955.02,156.65 Z" fill="#141414"/>
<path d="M981.34,145.04 L983.86,149.80 L978.82,149.80 Z" fill="#141414"/>
<line x1="1005.14" y1="77.11" x2="1005.14" y2="119.78" stroke="#141414" stroke-width="1.5" />
<line x1="1001.64" y1="77.11" x2="1008.64" y2="77.11" stroke="#141414" stroke-width="1.5" />
<line x1="1001.64" y1="119.78" x2="1008.64" y2="119.78" stroke="#141414" stroke-width="1.5" />
<path d="M1005.14,95.65 L1007.66,100.41 L1002.62,100.41 Z" fill="#141414"/>
<line x1="1028.94" y1="113.06" x2="1028.94" y2="140.99" stroke="#141414" stroke-width="1.5" />
<line x1="1025.44" y1="113.06" x2="1032.44" y2="113.06" stroke="#141414" stroke-width="1.5" />
<line x1="1025.44" y1="140.99" x2="1032.44" y2="140.99" stroke="#141414" stroke-width="1.5" />
<path d="M1028.94,124.22 L1031.46,128.98 L1026.42,128.98 Z" fill="#141414"/>
<line x1="1052.75" y1="117.71" x2="1052.75" y2="139.95" stroke="#141414" stroke-width="1.5" />
<line x1="1049.25" y1="117.71" x2="1056.25" y2="117.71" stroke="#141414" stroke-width="1.5" />
<line x1="1049.25" y1="139.95" x2="1056.25" y2="139.95" stroke="#141414" stroke-width="1.5" />
<path d="M1052.75,126.03 L1055.27,130.79 L1050.23,130.79 Z" fill="#141414"/>
<line x1="1076.55" y1="145.64" x2="1076.55" y2="209.26" stroke="#141414" stroke-width="1.5" />
<line x1="1073.05" y1="145.64" x2="1080.05" y2="145.64" stroke="#141414" stroke-width="1.5" />
<line x1="1073.05" y1="209.26" x2="1080.05" y2="209.26" stroke="#141414" stroke-width="1.5" />
<path d="M1076.55,174.65 L1079.07,179.41 L1074.03,179.41 Z" fill="#141414"/>
<line x1="1100.35" y1="198.39" x2="1100.35" y2="223.74" stroke="#141414" stroke-width="1.5" />
<line x1="1096.85" y1="198.39" x2="1103.85" y2="198.39" stroke="#141414" stroke-width="1.5" />
<line x1="1096.85" y1="223.74" x2="1103.85" y2="223.74" stroke="#141414" stroke-width="1.5" />
<path d="M1100.35,208.27 L1102.87,213.03 L1097.83,213.03 Z" fill="#141414"/>
<path d="M716.50,33.00 L718.66,37.08 L714.34,37.08 Z" fill="#141414"/>
<text stroke="#1a1414" stroke-width="0.15" x="726.62" y="39.6" font-size="16" letter-spacing="1.186" fill="#1a1414" >BPMV-EL1 + TMV-Hel Kd=0.02 μM</text>
<rect x="714.70" y="50.90" width="3.6" height="3.6" fill="#ee8a2c"/>
<text stroke="#1a1414" stroke-width="0.15" x="722.22" y="56.9" font-size="16" letter-spacing="1.153" fill="#1a1414" >EL1a + TMV-Hel Kd=0.02 μM</text>
<circle cx="716.50" cy="69.10" r="1.9" fill="#e02a2a"/>
<text stroke="#1a1414" stroke-width="0.15" x="722.22" y="73.3" font-size="16" letter-spacing="1.134" fill="#1a1414" >EL1b + TMV-Hel Kd=0.12 μM</text>
<path d="M716.50,88.10 L718.78,84.02 L714.22,84.02 Z" fill="#8cc43c"/>
<text stroke="#1a1414" stroke-width="0.15" x="722.22" y="89.9" font-size="16" letter-spacing="1.115" fill="#1a1414" >EL1c + TMV-Hel Kd=291.89 μM</text>
<text stroke="#1a1414" stroke-width="0.15" transform="translate(-0.81,425.7) scale(0.9972,1)" font-size="27" font-weight="bold" fill="#1a1414" >c</text>
<text stroke="#1a1414" stroke-width="0.15" transform="translate(186.56,429.8) scale(1.0195,1)" font-size="21" fill="#1a1414" >Rep 1</text>
<text stroke="#1a1414" stroke-width="0.15" transform="translate(301.54,429.8) scale(1.0489,1)" font-size="21" fill="#1a1414" >Rep 2</text>
<line x1="157.00" y1="438.60" x2="266.80" y2="438.60" stroke="#1a1414" stroke-width="1.8" />
<line x1="272.20" y1="438.60" x2="382.50" y2="438.60" stroke="#1a1414" stroke-width="1.8" />
<text stroke="#1a1414" stroke-width="0.15" transform="translate(16.53,458) scale(1.0601,1)" font-size="21" fill="#1a1414" >NbTRXh1-His</text>
<text stroke="#1a1414" stroke-width="0.15" transform="translate(18.16,484.9) scale(1.0559,1)" font-size="21" fill="#1a1414" >TMV-Hel-Flag</text>
<text stroke="#1a1414" stroke-width="0.15" transform="translate(72.41,511.1) scale(1.0619,1)" font-size="21" fill="#1a1414" >GFP-His</text>
<text stroke="#1a1414" stroke-width="0.15" transform="translate(176.36,459.84) scale(1.0000,1)" font-size="24" fill="#1a1414">+</text>
<text stroke="#1a1414" stroke-width="0.15" transform="translate(235.66,459.84) scale(1.0000,1)" font-size="24" fill="#1a1414">+</text>
<text stroke="#1a1414" stroke-width="0.15" transform="translate(290.66,459.84) scale(1.0000,1)" font-size="24" fill="#1a1414">+</text>
<text stroke="#1a1414" stroke-width="0.15" transform="translate(350.16,459.84) scale(1.0000,1)" font-size="24" fill="#1a1414">+</text>
<text stroke="#1a1414" stroke-width="0.15" transform="translate(179.46,483.59999999999997) scale(1.0000,1)" font-size="22" fill="#1a1414">-</text>
<text stroke="#1a1414" stroke-width="0.15" transform="translate(235.66,484.84) scale(1.0000,1)" font-size="24" fill="#1a1414">+</text>
<text stroke="#1a1414" stroke-width="0.15" transform="translate(293.76,483.59999999999997) scale(1.0000,1)" font-size="22" fill="#1a1414">-</text>
<text stroke="#1a1414" stroke-width="0.15" transform="translate(350.16,484.84) scale(1.0000,1)" font-size="24" fill="#1a1414">+</text>
<text stroke="#1a1414" stroke-width="0.15" transform="translate(176.36,509.84) scale(1.0000,1)" font-size="24" fill="#1a1414">+</text>
<text stroke="#1a1414" stroke-width="0.15" transform="translate(238.76,509.8) scale(1.0000,1)" font-size="22" fill="#1a1414">-</text>
<text stroke="#1a1414" stroke-width="0.15" transform="translate(290.66,509.84) scale(1.0000,1)" font-size="24" fill="#1a1414">+</text>
<text stroke="#1a1414" stroke-width="0.15" transform="translate(353.26,509.8) scale(1.0000,1)" font-size="22" fill="#1a1414">-</text>
<text stroke="#1a1414" stroke-width="0.15" transform="translate(41.28,533.9) scale(1.0424,1)" font-size="21" fill="#1a1414" >Anti-Flag</text>
<line x1="129.50" y1="527.10" x2="147.50" y2="527.10" stroke="#1a1414" stroke-width="1.4" />
<path d="M142.3,522.4 L148,527.1 L142.3,531.8" stroke="#1a1414" stroke-width="1.4" fill="none" />
<rect x="151.50" y="513.75" width="235.60" height="27.40" fill="#fcfcfc" stroke="#1a1414" stroke-width="1.5" />
<rect x="224" y="522.5" width="42" height="10" rx="3" fill="#909090" opacity="1.0" filter="url(#b2_5)"/>
<rect x="335" y="522" width="45" height="11" rx="3" fill="#383838" opacity="1.0" filter="url(#b2_5)"/>
<text stroke="#1a1414" stroke-width="0.15" transform="translate(391.76,536.9) scale(1.0120,1)" font-size="21.5" fill="#1a1414" >TMV-Hel</text>
<rect x="151.60" y="547.50" width="235.60" height="151.30" fill="#f8f8f8" stroke="#1a1414" stroke-width="1.5" />
<path d="M164,562.5 C180,562.5 196,563.5 207,565 L207,569.5 C196,570 180,569.5 164,568.5 Z" fill="#2a2a2a" opacity="1.0" filter="url(#b2_2)"/>
<path d="M276,564.5 C290,563.5 308,564 320,565 L320,569.5 C308,570 290,571.5 276,572.5 Z" fill="#1a1a1a" opacity="1.0" filter="url(#b2_2)"/>
<path d="M277,564.5 C284,564 291,564.5 297,565 L297,571 C291,571 284,571.5 277,572 Z" fill="#000" opacity="1.0" filter="url(#b2)"/>
<ellipse cx="183" cy="664" rx="25" ry="14" fill="#333" opacity="1.0" filter="url(#b4)"/>
<ellipse cx="183" cy="668" rx="22" ry="8.5" fill="#000" opacity="1.0" filter="url(#b3)"/>
<ellipse cx="241.5" cy="670" rx="23" ry="10" fill="#a4a4a4" opacity="1.0" filter="url(#b4)"/>
<ellipse cx="241.5" cy="671" rx="14" ry="5" fill="#7a7a7a" opacity="1.0" filter="url(#b3)"/>
<ellipse cx="298" cy="669" rx="24" ry="15" fill="#000" opacity="1.0" filter="url(#b3_5)"/>
<ellipse cx="357" cy="671" rx="24" ry="11" fill="#707070" opacity="1.0" filter="url(#b4)"/>
<ellipse cx="357" cy="671" rx="15" ry="5.5" fill="#3c3c3c" opacity="1.0" filter="url(#b3)"/>
<line x1="145.00" y1="557.40" x2="145.00" y2="687.60" stroke="#1a1414" stroke-width="1.5" />
<text stroke="#1a1414" stroke-width="0.15" transform="translate(62.98,624.2) scale(1.0354,1)" font-size="21.5" fill="#1a1414" >Anti-His</text>
<text stroke="#1a1414" stroke-width="0.15" transform="translate(390.91,575.3) scale(1.0386,1)" font-size="21.5" fill="#1a1414" >GFP</text>
<text stroke="#1a1414" stroke-width="0.15" transform="translate(391.25,681.9) scale(1.0113,1)" font-size="21.5" fill="#1a1414" >NbTRXh1</text>
<text stroke="#1a1414" stroke-width="0.15" transform="translate(164.96,718) scale(1.0548,1)" font-size="21.5" fill="#1a1414" >1.0</text>
<text stroke="#1a1414" stroke-width="0.15" transform="translate(218.11,718) scale(1.0317,1)" font-size="21.5" fill="#1a1414" >0.42</text>
<text stroke="#1a1414" stroke-width="0.15" transform="translate(285.61,718) scale(1.0299,1)" font-size="21.5" fill="#1a1414" >1.0</text>
<text stroke="#1a1414" stroke-width="0.15" transform="translate(342.14,718) scale(1.0026,1)" font-size="21.5" fill="#1a1414" >0.75</text>
<rect x="151.50" y="725.50" width="236.00" height="33.20" fill="#dfc3d2" stroke="#1a1414" stroke-width="1.5" />
<rect x="154" y="731.5" width="50" height="18" rx="5" fill="#cc90b4" opacity="0.75" filter="url(#b3)"/>
<rect x="217" y="731.5" width="47.5" height="18" rx="5" fill="#cc90b4" opacity="0.75" filter="url(#b3)"/>
<rect x="275.5" y="731.5" width="45.80000000000001" height="18" rx="5" fill="#cc90b4" opacity="0.75" filter="url(#b3)"/>
<rect x="334" y="731.5" width="52" height="18" rx="5" fill="#cc90b4" opacity="0.75" filter="url(#b3)"/>
<text stroke="#1a1414" stroke-width="0.15" transform="translate(7.34,748.5) scale(1.0259,1)" font-size="21.5" fill="#1a1414" >Loading control</text>
<text stroke="#1a1414" stroke-width="0.15" transform="translate(391.22,748.2) scale(1.0503,1)" font-size="21.5" fill="#1a1414" >RbcL</text>
<text stroke="#1a1414" stroke-width="0.15" transform="translate(488.23,425.8) scale(0.9949,1)" font-size="27" font-weight="bold" fill="#1a1414" >d</text>
<clipPath id="boxclip"><rect x="500" y="445" width="314" height="313.3"/></clipPath>
<g clip-path="url(#boxclip)">
<rect x="500.00" y="445.00" width="314.00" height="313.30" fill="#193705" stroke="none" stroke-width="0" />
<rect x="500" y="445" width="314" height="313.3" fill="#000" filter="url(#speck2)"/>
<path d="M664,445 C640,452 585,458 553,465 C530,470 515,482 511,510 L510,560 C508,580 508,600 510,612 C513,625 520,640 530,655 C540,672 550,686 561,697 C585,725 620,748 660,754 C700,758 740,735 766,701 C775,690 781,680 785,668 C787,640 789,610 791,598 C795,588 800,582 803,576 C805,540 806,500 801,480 C792,469 770,468 750,468 C710,467 685,466 673,469 C668,462 665,452 664,445 Z" fill="#1f4407"/>
<clipPath id="leafclip"><path d="M664,445 C640,452 585,458 553,465 C530,470 515,482 511,510 L510,560 C508,580 508,600 510,612 C513,625 520,640 530,655 C540,672 550,686 561,697 C585,725 620,748 660,754 C700,758 740,735 766,701 C775,690 781,680 785,668 C787,640 789,610 791,598 C795,588 800,582 803,576 C805,540 806,500 801,480 C792,469 770,468 750,468 C710,467 685,466 673,469 C668,462 665,452 664,445 Z"/></clipPath>
<rect x="500" y="445" width="314" height="313.3" fill="#000" filter="url(#speck)" clip-path="url(#leafclip)"/>
<path d="M664,445 L664.5,480" stroke="#2d5a10" stroke-width="3" opacity="0.6"/>
<path d="M514.3,564.3 L516.0,561.9 L518.7,560.0 L520.4,559.2 L522.7,558.2 L523.9,557.7 L527.0,557.0 L528.6,556.6 L531.3,555.6 L534.7,556.1 L537.0,557.4 L538.8,556.8 L542.0,558.0 L545.3,559.0 L548.2,557.9 L551.0,558.2 L554.6,557.6 L557.1,558.3 L559.0,559.0 L561.1,559.0 L564.2,561.1 L567.3,561.2 L568.9,562.3 L572.0,562.8 L574.0,564.0 L576.6,564.6 L578.2,566.3 L581.6,568.4 L584.1,569.5 L585.5,571.0 L588.0,572.0 L589.9,572.8 L592.5,574.7 L593.9,575.5 L590.9,577.1 L589.0,579.3 L586.5,580.0 L586.7,581.1 L586.9,582.4 L585.7,584.7 L587.6,586.0 L589.2,586.2 L592.0,587.0 L593.1,588.6 L596.5,589.7 L598.0,590.8 L600.4,591.8 L601.7,593.8 L603.0,595.0 L604.2,596.9 L605.7,599.9 L606.1,601.0 L606.3,603.0 L605.8,604.7 L607.0,606.0 L608.1,608.3 L609.3,608.2 L609.5,610.0 L609.5,612.8 L609.0,614.8 L610.2,617.3 L610.3,618.1 L610.9,621.0 L612.5,622.0 L611.3,623.5 L611.3,626.7 L611.0,628.0 L610.6,630.5 L611.9,633.9 L612.2,635.7 L612.4,638.5 L611.0,639.7 L611.0,642.0 L609.8,646.1 L610.0,648.0 L608.2,652.0 L606.5,653.5 L605.5,656.0 L605.0,658.0 L603.5,661.0 L600.7,664.8 L600.0,668.4 L597.7,670.1 L596.9,671.8 L594.0,673.0 L591.3,675.8 L588.8,677.2 L585.7,680.6 L583.9,682.6 L581.3,684.1 L578.0,685.0 L574.9,686.7 L571.5,689.1 L569.4,690.8 L567.1,691.0 L565.9,692.3 L565.0,694.0 L563.4,694.1 L561.5,695.3 L561.2,697.0 L558.4,694.7 L556.2,693.6 L555.1,690.8 L553.0,687.2 L549.9,684.6 L548.0,682.0 L545.3,678.0 L543.9,676.6 L540.8,672.4 L537.8,667.2 L534.1,661.3 L532.0,657.0 L529.2,651.5 L527.7,646.2 L524.5,641.8 L521.5,639.3 L520.5,634.3 L518.4,631.6 L516.7,627.5 L514.9,626.2 L513.0,622.0 L512.8,620.2 L510.7,617.3 L510.2,615.3 L509.2,613.1 L509.6,610.4 L509.2,607.1 L509.9,603.2 L511.8,601.3 L512.2,597.0 L513.5,594.9 L514.0,592.1 L514.0,589.0 L513.9,586.2 L514.6,582.5 L515.3,580.6 L514.0,574.7 L514.2,570.1 Z" fill="#80ff00"/>
<path d="M712.4,565.5 L715.2,563.9 L717.0,563.5 L718.0,561.0 L721.0,559.7 L721.6,558.3 L724.3,557.8 L726.3,556.4 L729.7,557.1 L732.0,555.5 L735.8,555.1 L738.6,555.4 L741.4,554.4 L744.1,554.6 L749.3,554.7 L752.0,554.0 L756.4,554.4 L759.2,555.4 L763.7,555.3 L766.1,556.8 L770.2,556.9 L772.0,558.0 L774.7,560.3 L778.3,560.1 L780.8,562.1 L782.3,563.7 L786.1,567.3 L787.6,569.0 L789.4,570.7 L793.5,571.3 L795.0,572.0 L797.4,573.4 L799.6,573.6 L803.0,575.8 L802.3,577.8 L799.7,580.1 L798.0,581.0 L796.7,584.0 L796.3,585.0 L794.5,587.8 L793.0,589.5 L792.0,592.1 L791.5,594.0 L790.6,596.3 L789.9,599.8 L790.2,601.4 L789.5,604.8 L789.6,609.3 L789.0,612.0 L788.7,616.2 L788.7,618.7 L788.5,622.0 L788.4,624.4 L788.0,628.0 L788.0,632.0 L786.9,635.5 L787.1,637.8 L787.6,640.8 L788.4,644.0 L787.9,647.0 L788.5,650.0 L788.6,653.2 L787.7,655.4 L788.5,657.9 L786.6,660.9 L786.2,664.8 L784.2,668.2 L781.9,669.0 L780.2,668.6 L777.0,669.0 L775.1,669.6 L772.7,670.5 L770.5,670.7 L767.9,671.4 L765.5,672.8 L763.0,672.5 L761.3,673.5 L759.8,672.6 L756.8,673.3 L754.3,673.4 L752.3,671.0 L749.0,671.0 L745.7,670.5 L743.1,669.7 L741.4,669.9 L738.1,669.3 L737.0,668.8 L734.0,667.0 L731.2,666.7 L730.2,664.8 L727.8,664.7 L726.3,664.7 L722.7,663.8 L721.0,662.0 L719.1,661.2 L718.5,661.1 L715.8,659.6 L713.2,657.6 L712.0,655.5 L710.0,654.0 L707.9,651.5 L707.4,648.8 L705.5,647.6 L704.1,645.3 L701.5,642.9 L701.0,641.0 L700.5,639.3 L698.6,638.4 L698.7,635.7 L698.0,633.7 L695.4,629.4 L695.0,627.0 L693.6,624.8 L693.6,620.7 L693.6,618.6 L692.9,616.9 L693.2,613.1 L692.0,611.0 L691.2,609.8 L692.0,607.3 L691.8,604.9 L691.0,601.1 L692.2,599.0 L691.8,596.3 L692.3,595.7 L694.9,594.0 L696.0,592.0 L696.6,591.3 L698.1,589.9 L700.4,587.8 L701.5,585.5 L702.9,584.8 L704.0,582.0 L705.2,579.2 L707.4,577.3 L709.0,575.8 L709.4,571.7 L710.4,568.3 Z" fill="#7cf800"/>
<path d="M514.3,564.3 L516.0,561.9 L518.7,560.0 L520.4,559.2 L522.7,558.2 L523.9,557.7 L527.0,557.0 L528.6,556.6 L531.3,555.6 L534.7,556.1 L537.0,557.4 L538.8,556.8 L542.0,558.0 L545.3,559.0 L548.2,557.9 L551.0,558.2 L554.6,557.6 L557.1,558.3 L559.0,559.0 L561.1,559.0 L564.2,561.1 L567.3,561.2 L568.9,562.3 L572.0,562.8 L574.0,564.0 L576.6,564.6 L578.2,566.3 L581.6,568.4 L584.1,569.5 L585.5,571.0 L588.0,572.0 L589.9,572.8 L592.5,574.7 L593.9,575.5 L590.9,577.1 L589.0,579.3 L586.5,580.0 L586.7,581.1 L586.9,582.4 L585.7,584.7 L587.6,586.0 L589.2,586.2 L592.0,587.0 L593.1,588.6 L596.5,589.7 L598.0,590.8 L600.4,591.8 L601.7,593.8 L603.0,595.0 L604.2,596.9 L605.7,599.9 L606.1,601.0 L606.3,603.0 L605.8,604.7 L607.0,606.0 L608.1,608.3 L609.3,608.2 L609.5,610.0 L609.5,612.8 L609.0,614.8 L610.2,617.3 L610.3,618.1 L610.9,621.0 L612.5,622.0 L611.3,623.5 L611.3,626.7 L611.0,628.0 L610.6,630.5 L611.9,633.9 L612.2,635.7 L612.4,638.5 L611.0,639.7 L611.0,642.0 L609.8,646.1 L610.0,648.0 L608.2,652.0 L606.5,653.5 L605.5,656.0 L605.0,658.0 L603.5,661.0 L600.7,664.8 L600.0,668.4 L597.7,670.1 L596.9,671.8 L594.0,673.0 L591.3,675.8 L588.8,677.2 L585.7,680.6 L583.9,682.6 L581.3,684.1 L578.0,685.0 L574.9,686.7 L571.5,689.1 L569.4,690.8 L567.1,691.0 L565.9,692.3 L565.0,694.0 L563.4,694.1 L561.5,695.3 L561.2,697.0 L558.4,694.7 L556.2,693.6 L555.1,690.8 L553.0,687.2 L549.9,684.6 L548.0,682.0 L545.3,678.0 L543.9,676.6 L540.8,672.4 L537.8,667.2 L534.1,661.3 L532.0,657.0 L529.2,651.5 L527.7,646.2 L524.5,641.8 L521.5,639.3 L520.5,634.3 L518.4,631.6 L516.7,627.5 L514.9,626.2 L513.0,622.0 L512.8,620.2 L510.7,617.3 L510.2,615.3 L509.2,613.1 L509.6,610.4 L509.2,607.1 L509.9,603.2 L511.8,601.3 L512.2,597.0 L513.5,594.9 L514.0,592.1 L514.0,589.0 L513.9,586.2 L514.6,582.5 L515.3,580.6 L514.0,574.7 L514.2,570.1 Z" fill="#000" filter="url(#mottleL)"/>
<path d="M712.4,565.5 L715.2,563.9 L717.0,563.5 L718.0,561.0 L721.0,559.7 L721.6,558.3 L724.3,557.8 L726.3,556.4 L729.7,557.1 L732.0,555.5 L735.8,555.1 L738.6,555.4 L741.4,554.4 L744.1,554.6 L749.3,554.7 L752.0,554.0 L756.4,554.4 L759.2,555.4 L763.7,555.3 L766.1,556.8 L770.2,556.9 L772.0,558.0 L774.7,560.3 L778.3,560.1 L780.8,562.1 L782.3,563.7 L786.1,567.3 L787.6,569.0 L789.4,570.7 L793.5,571.3 L795.0,572.0 L797.4,573.4 L799.6,573.6 L803.0,575.8 L802.3,577.8 L799.7,580.1 L798.0,581.0 L796.7,584.0 L796.3,585.0 L794.5,587.8 L793.0,589.5 L792.0,592.1 L791.5,594.0 L790.6,596.3 L789.9,599.8 L790.2,601.4 L789.5,604.8 L789.6,609.3 L789.0,612.0 L788.7,616.2 L788.7,618.7 L788.5,622.0 L788.4,624.4 L788.0,628.0 L788.0,632.0 L786.9,635.5 L787.1,637.8 L787.6,640.8 L788.4,644.0 L787.9,647.0 L788.5,650.0 L788.6,653.2 L787.7,655.4 L788.5,657.9 L786.6,660.9 L786.2,664.8 L784.2,668.2 L781.9,669.0 L780.2,668.6 L777.0,669.0 L775.1,669.6 L772.7,670.5 L770.5,670.7 L767.9,671.4 L765.5,672.8 L763.0,672.5 L761.3,673.5 L759.8,672.6 L756.8,673.3 L754.3,673.4 L752.3,671.0 L749.0,671.0 L745.7,670.5 L743.1,669.7 L741.4,669.9 L738.1,669.3 L737.0,668.8 L734.0,667.0 L731.2,666.7 L730.2,664.8 L727.8,664.7 L726.3,664.7 L722.7,663.8 L721.0,662.0 L719.1,661.2 L718.5,661.1 L715.8,659.6 L713.2,657.6 L712.0,655.5 L710.0,654.0 L707.9,651.5 L707.4,648.8 L705.5,647.6 L704.1,645.3 L701.5,642.9 L701.0,641.0 L700.5,639.3 L698.6,638.4 L698.7,635.7 L698.0,633.7 L695.4,629.4 L695.0,627.0 L693.6,624.8 L693.6,620.7 L693.6,618.6 L692.9,616.9 L693.2,613.1 L692.0,611.0 L691.2,609.8 L692.0,607.3 L691.8,604.9 L691.0,601.1 L692.2,599.0 L691.8,596.3 L692.3,595.7 L694.9,594.0 L696.0,592.0 L696.6,591.3 L698.1,589.9 L700.4,587.8 L701.5,585.5 L702.9,584.8 L704.0,582.0 L705.2,579.2 L707.4,577.3 L709.0,575.8 L709.4,571.7 L710.4,568.3 Z" fill="#000" filter="url(#mottleR)"/>
<path d="M514.3,564.3 L516.0,561.9 L518.7,560.0 L520.4,559.2 L522.7,558.2 L523.9,557.7 L527.0,557.0 L528.6,556.6 L531.3,555.6 L534.7,556.1 L537.0,557.4 L538.8,556.8 L542.0,558.0 L545.3,559.0 L548.2,557.9 L551.0,558.2 L554.6,557.6 L557.1,558.3 L559.0,559.0 L561.1,559.0 L564.2,561.1 L567.3,561.2 L568.9,562.3 L572.0,562.8 L574.0,564.0 L576.6,564.6 L578.2,566.3 L581.6,568.4 L584.1,569.5 L585.5,571.0 L588.0,572.0 L589.9,572.8 L592.5,574.7 L593.9,575.5 L590.9,577.1 L589.0,579.3 L586.5,580.0 L586.7,581.1 L586.9,582.4 L585.7,584.7 L587.6,586.0 L589.2,586.2 L592.0,587.0 L593.1,588.6 L596.5,589.7 L598.0,590.8 L600.4,591.8 L601.7,593.8 L603.0,595.0 L604.2,596.9 L605.7,599.9 L606.1,601.0 L606.3,603.0 L605.8,604.7 L607.0,606.0 L608.1,608.3 L609.3,608.2 L609.5,610.0 L609.5,612.8 L609.0,614.8 L610.2,617.3 L610.3,618.1 L610.9,621.0 L612.5,622.0 L611.3,623.5 L611.3,626.7 L611.0,628.0 L610.6,630.5 L611.9,633.9 L612.2,635.7 L612.4,638.5 L611.0,639.7 L611.0,642.0 L609.8,646.1 L610.0,648.0 L608.2,652.0 L606.5,653.5 L605.5,656.0 L605.0,658.0 L603.5,661.0 L600.7,664.8 L600.0,668.4 L597.7,670.1 L596.9,671.8 L594.0,673.0 L591.3,675.8 L588.8,677.2 L585.7,680.6 L583.9,682.6 L581.3,684.1 L578.0,685.0 L574.9,686.7 L571.5,689.1 L569.4,690.8 L567.1,691.0 L565.9,692.3 L565.0,694.0 L563.4,694.1 L561.5,695.3 L561.2,697.0 L558.4,694.7 L556.2,693.6 L555.1,690.8 L553.0,687.2 L549.9,684.6 L548.0,682.0 L545.3,678.0 L543.9,676.6 L540.8,672.4 L537.8,667.2 L534.1,661.3 L532.0,657.0 L529.2,651.5 L527.7,646.2 L524.5,641.8 L521.5,639.3 L520.5,634.3 L518.4,631.6 L516.7,627.5 L514.9,626.2 L513.0,622.0 L512.8,620.2 L510.7,617.3 L510.2,615.3 L509.2,613.1 L509.6,610.4 L509.2,607.1 L509.9,603.2 L511.8,601.3 L512.2,597.0 L513.5,594.9 L514.0,592.1 L514.0,589.0 L513.9,586.2 L514.6,582.5 L515.3,580.6 L514.0,574.7 L514.2,570.1 Z" fill="#000" filter="url(#fineL)"/>
<path d="M712.4,565.5 L715.2,563.9 L717.0,563.5 L718.0,561.0 L721.0,559.7 L721.6,558.3 L724.3,557.8 L726.3,556.4 L729.7,557.1 L732.0,555.5 L735.8,555.1 L738.6,555.4 L741.4,554.4 L744.1,554.6 L749.3,554.7 L752.0,554.0 L756.4,554.4 L759.2,555.4 L763.7,555.3 L766.1,556.8 L770.2,556.9 L772.0,558.0 L774.7,560.3 L778.3,560.1 L780.8,562.1 L782.3,563.7 L786.1,567.3 L787.6,569.0 L789.4,570.7 L793.5,571.3 L795.0,572.0 L797.4,573.4 L799.6,573.6 L803.0,575.8 L802.3,577.8 L799.7,580.1 L798.0,581.0 L796.7,584.0 L796.3,585.0 L794.5,587.8 L793.0,589.5 L792.0,592.1 L791.5,594.0 L790.6,596.3 L789.9,599.8 L790.2,601.4 L789.5,604.8 L789.6,609.3 L789.0,612.0 L788.7,616.2 L788.7,618.7 L788.5,622.0 L788.4,624.4 L788.0,628.0 L788.0,632.0 L786.9,635.5 L787.1,637.8 L787.6,640.8 L788.4,644.0 L787.9,647.0 L788.5,650.0 L788.6,653.2 L787.7,655.4 L788.5,657.9 L786.6,660.9 L786.2,664.8 L784.2,668.2 L781.9,669.0 L780.2,668.6 L777.0,669.0 L775.1,669.6 L772.7,670.5 L770.5,670.7 L767.9,671.4 L765.5,672.8 L763.0,672.5 L761.3,673.5 L759.8,672.6 L756.8,673.3 L754.3,673.4 L752.3,671.0 L749.0,671.0 L745.7,670.5 L743.1,669.7 L741.4,669.9 L738.1,669.3 L737.0,668.8 L734.0,667.0 L731.2,666.7 L730.2,664.8 L727.8,664.7 L726.3,664.7 L722.7,663.8 L721.0,662.0 L719.1,661.2 L718.5,661.1 L715.8,659.6 L713.2,657.6 L712.0,655.5 L710.0,654.0 L707.9,651.5 L707.4,648.8 L705.5,647.6 L704.1,645.3 L701.5,642.9 L701.0,641.0 L700.5,639.3 L698.6,638.4 L698.7,635.7 L698.0,633.7 L695.4,629.4 L695.0,627.0 L693.6,624.8 L693.6,620.7 L693.6,618.6 L692.9,616.9 L693.2,613.1 L692.0,611.0 L691.2,609.8 L692.0,607.3 L691.8,604.9 L691.0,601.1 L692.2,599.0 L691.8,596.3 L692.3,595.7 L694.9,594.0 L696.0,592.0 L696.6,591.3 L698.1,589.9 L700.4,587.8 L701.5,585.5 L702.9,584.8 L704.0,582.0 L705.2,579.2 L707.4,577.3 L709.0,575.8 L709.4,571.7 L710.4,568.3 Z" fill="#000" filter="url(#fineR)"/>
<linearGradient id="rdark" x1="700" y1="560" x2="770" y2="640" gradientUnits="userSpaceOnUse"><stop offset="0" stop-color="#2a5a00" stop-opacity="0.55"/><stop offset="1" stop-color="#2a5a00" stop-opacity="0"/></linearGradient>
<path d="M712.4,565.5 L715.2,563.9 L717.0,563.5 L718.0,561.0 L721.0,559.7 L721.6,558.3 L724.3,557.8 L726.3,556.4 L729.7,557.1 L732.0,555.5 L735.8,555.1 L738.6,555.4 L741.4,554.4 L744.1,554.6 L749.3,554.7 L752.0,554.0 L756.4,554.4 L759.2,555.4 L763.7,555.3 L766.1,556.8 L770.2,556.9 L772.0,558.0 L774.7,560.3 L778.3,560.1 L780.8,562.1 L782.3,563.7 L786.1,567.3 L787.6,569.0 L789.4,570.7 L793.5,571.3 L795.0,572.0 L797.4,573.4 L799.6,573.6 L803.0,575.8 L802.3,577.8 L799.7,580.1 L798.0,581.0 L796.7,584.0 L796.3,585.0 L794.5,587.8 L793.0,589.5 L792.0,592.1 L791.5,594.0 L790.6,596.3 L789.9,599.8 L790.2,601.4 L789.5,604.8 L789.6,609.3 L789.0,612.0 L788.7,616.2 L788.7,618.7 L788.5,622.0 L788.4,624.4 L788.0,628.0 L788.0,632.0 L786.9,635.5 L787.1,637.8 L787.6,640.8 L788.4,644.0 L787.9,647.0 L788.5,650.0 L788.6,653.2 L787.7,655.4 L788.5,657.9 L786.6,660.9 L786.2,664.8 L784.2,668.2 L781.9,669.0 L780.2,668.6 L777.0,669.0 L775.1,669.6 L772.7,670.5 L770.5,670.7 L767.9,671.4 L765.5,672.8 L763.0,672.5 L761.3,673.5 L759.8,672.6 L756.8,673.3 L754.3,673.4 L752.3,671.0 L749.0,671.0 L745.7,670.5 L743.1,669.7 L741.4,669.9 L738.1,669.3 L737.0,668.8 L734.0,667.0 L731.2,666.7 L730.2,664.8 L727.8,664.7 L726.3,664.7 L722.7,663.8 L721.0,662.0 L719.1,661.2 L718.5,661.1 L715.8,659.6 L713.2,657.6 L712.0,655.5 L710.0,654.0 L707.9,651.5 L707.4,648.8 L705.5,647.6 L704.1,645.3 L701.5,642.9 L701.0,641.0 L700.5,639.3 L698.6,638.4 L698.7,635.7 L698.0,633.7 L695.4,629.4 L695.0,627.0 L693.6,624.8 L693.6,620.7 L693.6,618.6 L692.9,616.9 L693.2,613.1 L692.0,611.0 L691.2,609.8 L692.0,607.3 L691.8,604.9 L691.0,601.1 L692.2,599.0 L691.8,596.3 L692.3,595.7 L694.9,594.0 L696.0,592.0 L696.6,591.3 L698.1,589.9 L700.4,587.8 L701.5,585.5 L702.9,584.8 L704.0,582.0 L705.2,579.2 L707.4,577.3 L709.0,575.8 L709.4,571.7 L710.4,568.3 Z" fill="url(#rdark)"/>
<linearGradient id="ldark" x1="510" y1="560" x2="560" y2="610" gradientUnits="userSpaceOnUse"><stop offset="0" stop-color="#2a5a00" stop-opacity="0.35"/><stop offset="1" stop-color="#2a5a00" stop-opacity="0"/></linearGradient>
<path d="M514.3,564.3 L516.0,561.9 L518.7,560.0 L520.4,559.2 L522.7,558.2 L523.9,557.7 L527.0,557.0 L528.6,556.6 L531.3,555.6 L534.7,556.1 L537.0,557.4 L538.8,556.8 L542.0,558.0 L545.3,559.0 L548.2,557.9 L551.0,558.2 L554.6,557.6 L557.1,558.3 L559.0,559.0 L561.1,559.0 L564.2,561.1 L567.3,561.2 L568.9,562.3 L572.0,562.8 L574.0,564.0 L576.6,564.6 L578.2,566.3 L581.6,568.4 L584.1,569.5 L585.5,571.0 L588.0,572.0 L589.9,572.8 L592.5,574.7 L593.9,575.5 L590.9,577.1 L589.0,579.3 L586.5,580.0 L586.7,581.1 L586.9,582.4 L585.7,584.7 L587.6,586.0 L589.2,586.2 L592.0,587.0 L593.1,588.6 L596.5,589.7 L598.0,590.8 L600.4,591.8 L601.7,593.8 L603.0,595.0 L604.2,596.9 L605.7,599.9 L606.1,601.0 L606.3,603.0 L605.8,604.7 L607.0,606.0 L608.1,608.3 L609.3,608.2 L609.5,610.0 L609.5,612.8 L609.0,614.8 L610.2,617.3 L610.3,618.1 L610.9,621.0 L612.5,622.0 L611.3,623.5 L611.3,626.7 L611.0,628.0 L610.6,630.5 L611.9,633.9 L612.2,635.7 L612.4,638.5 L611.0,639.7 L611.0,642.0 L609.8,646.1 L610.0,648.0 L608.2,652.0 L606.5,653.5 L605.5,656.0 L605.0,658.0 L603.5,661.0 L600.7,664.8 L600.0,668.4 L597.7,670.1 L596.9,671.8 L594.0,673.0 L591.3,675.8 L588.8,677.2 L585.7,680.6 L583.9,682.6 L581.3,684.1 L578.0,685.0 L574.9,686.7 L571.5,689.1 L569.4,690.8 L567.1,691.0 L565.9,692.3 L565.0,694.0 L563.4,694.1 L561.5,695.3 L561.2,697.0 L558.4,694.7 L556.2,693.6 L555.1,690.8 L553.0,687.2 L549.9,684.6 L548.0,682.0 L545.3,678.0 L543.9,676.6 L540.8,672.4 L537.8,667.2 L534.1,661.3 L532.0,657.0 L529.2,651.5 L527.7,646.2 L524.5,641.8 L521.5,639.3 L520.5,634.3 L518.4,631.6 L516.7,627.5 L514.9,626.2 L513.0,622.0 L512.8,620.2 L510.7,617.3 L510.2,615.3 L509.2,613.1 L509.6,610.4 L509.2,607.1 L509.9,603.2 L511.8,601.3 L512.2,597.0 L513.5,594.9 L514.0,592.1 L514.0,589.0 L513.9,586.2 L514.6,582.5 L515.3,580.6 L514.0,574.7 L514.2,570.1 Z" fill="url(#ldark)"/>
<path d="M583.7,588.8 C579,597 577,602 575.5,607 C571,620 568,630 567.3,635.7 C565,645 563,650 563.3,656 C563.5,662 565,668 565.3,672.4" stroke="#3f7a08" stroke-width="1.6" fill="none" opacity="0.8"/>
<path d="M540,603 C555,598 570,594 583.7,588.8" stroke="#4d8a0a" stroke-width="1.2" fill="none" opacity="0.6"/>
<path d="M717.5,579.2 C725,592 731,602 736.3,610 C741,619 744,625 746.6,630.5 C749,640 750,647 750,654.5 C750.5,662 750.8,667 750.9,671.6" stroke="#2f6205" stroke-width="2" fill="none" opacity="0.85"/>
</g>
<text stroke="#fff" stroke-width="0.25" transform="translate(515.5,511.5) rotate(-19)" font-size="22" fill="#fff">Flag +</text>
<text stroke="#fff" stroke-width="0.25" transform="translate(525.3,536.6) rotate(-19)" font-size="22" fill="#fff">NbTRXh1-GFP</text>
<text stroke="#fff" stroke-width="0.25" transform="translate(667.4,527.8) rotate(-19)" font-size="22.2" fill="#fff">TMV-Hel-Flag +</text>
<text stroke="#fff" stroke-width="0.25" transform="translate(676.6,552.3) rotate(-19)" font-size="22" fill="#fff">NbTRXh1-GFP</text>
<text stroke="#1a1414" stroke-width="0.15" transform="translate(821.45,426) scale(1.0541,1)" font-size="27" font-weight="bold" fill="#1a1414" >e</text>
<text stroke="#1a1414" stroke-width="0.15" transform="translate(986.00,557.50) rotate(-49) scale(1.0000,1) translate(-28.38,5.17)" font-size="22" fill="#1a1414" >Flag +</text>
<text stroke="#1a1414" stroke-width="0.15" transform="translate(1028.50,539.80) rotate(-49) scale(1.0000,1) translate(-70.18,7.48)" font-size="22" fill="#1a1414" >NbTRXh1-GFP</text>
<text stroke="#1a1414" stroke-width="0.15" transform="translate(1095.50,521.50) rotate(-49) scale(1.0000,1) translate(-74.91,5.17)" font-size="22" fill="#1a1414" >TMV-Hel-Flag +</text>
<text stroke="#1a1414" stroke-width="0.15" transform="translate(1107.20,539.80) rotate(-49) scale(1.0000,1) translate(-70.18,7.48)" font-size="22" fill="#1a1414" >NbTRXh1-GFP</text>
<rect x="968.20" y="606.30" width="138.80" height="39.70" fill="#fbfbfb" stroke="#3a3333" stroke-width="1.5" />
<rect x="1045" y="621.5" width="57" height="10.5" rx="5" fill="#8d8d8d" opacity="1.0" filter="url(#b2_2)"/>
<linearGradient id="gfpbg" x1="0" y1="0" x2="0" y2="1"><stop offset="0" stop-color="#f4f4f4"/><stop offset="1" stop-color="#e9e9e9"/></linearGradient>
<rect x="968.20" y="652.70" width="138.80" height="39.60" fill="url(#gfpbg)" stroke="#3a3333" stroke-width="1.5" />
<rect x="970" y="663" width="61" height="24" rx="12" fill="#4a4a4a" opacity="1.0" filter="url(#b3_5)"/>
<rect x="973" y="667.5" width="56" height="14" rx="7" fill="#000" opacity="1.0" filter="url(#b3)"/>
<linearGradient id="l2g" x1="0" y1="0" x2="1" y2="0"><stop offset="0" stop-color="#6a6a6a"/><stop offset="0.5" stop-color="#858585"/><stop offset="1" stop-color="#a8a8a8"/></linearGradient>
<path d="M1046,684 C1065,683 1088,676 1103,669 L1103,657 C1088,662 1065,667 1046,669 Z" fill="url(#l2g)" filter="url(#b3)"/>
<text stroke="#1a1414" stroke-width="0.15" transform="translate(877.08,628.4) scale(1.0302,1)" font-size="21.5" fill="#1a1414" >Anti-Flag</text>
<text stroke="#1a1414" stroke-width="0.15" transform="translate(876.68,676.2) scale(1.0244,1)" font-size="21.5" fill="#1a1414" >Anti-GFP</text>
<text stroke="#1a1414" stroke-width="0.15" transform="translate(1110.06,628.4) scale(1.0120,1)" font-size="21.5" fill="#1a1414" >TMV-Hel</text>
<text stroke="#1a1414" stroke-width="0.15" transform="translate(1109.45,676.2) scale(1.0113,1)" font-size="21.5" fill="#1a1414" >NbTRXh1</text>
<text stroke="#1a1414" stroke-width="0.15" transform="translate(989.89,709.6) scale(1.0382,1)" font-size="21.5" fill="#1a1414" >1.0</text>
<text stroke="#1a1414" stroke-width="0.15" transform="translate(1059.73,709.6) scale(1.0110,1)" font-size="21.5" fill="#1a1414" >0.6</text>
<rect x="968.20" y="719.40" width="140.00" height="39.60" fill="#d8cbd0" stroke="#3a3333" stroke-width="1.5" />
<rect x="972" y="728" width="60" height="26" rx="3" fill="#cfb3c3" opacity="0.7" filter="url(#b5)"/>
<rect x="1045" y="728" width="58" height="26" rx="3" fill="#d0adc1" opacity="0.75" filter="url(#b5)"/>
<text stroke="#1a1414" stroke-width="0.15" transform="translate(825.24,747.4) scale(1.0208,1)" font-size="21.5" fill="#1a1414" >Loading control</text>
<text stroke="#1a1414" stroke-width="0.15" transform="translate(1113.63,747.4) scale(1.0438,1)" font-size="21.5" fill="#1a1414" >RbcL</text>
</svg>
</body></html>
